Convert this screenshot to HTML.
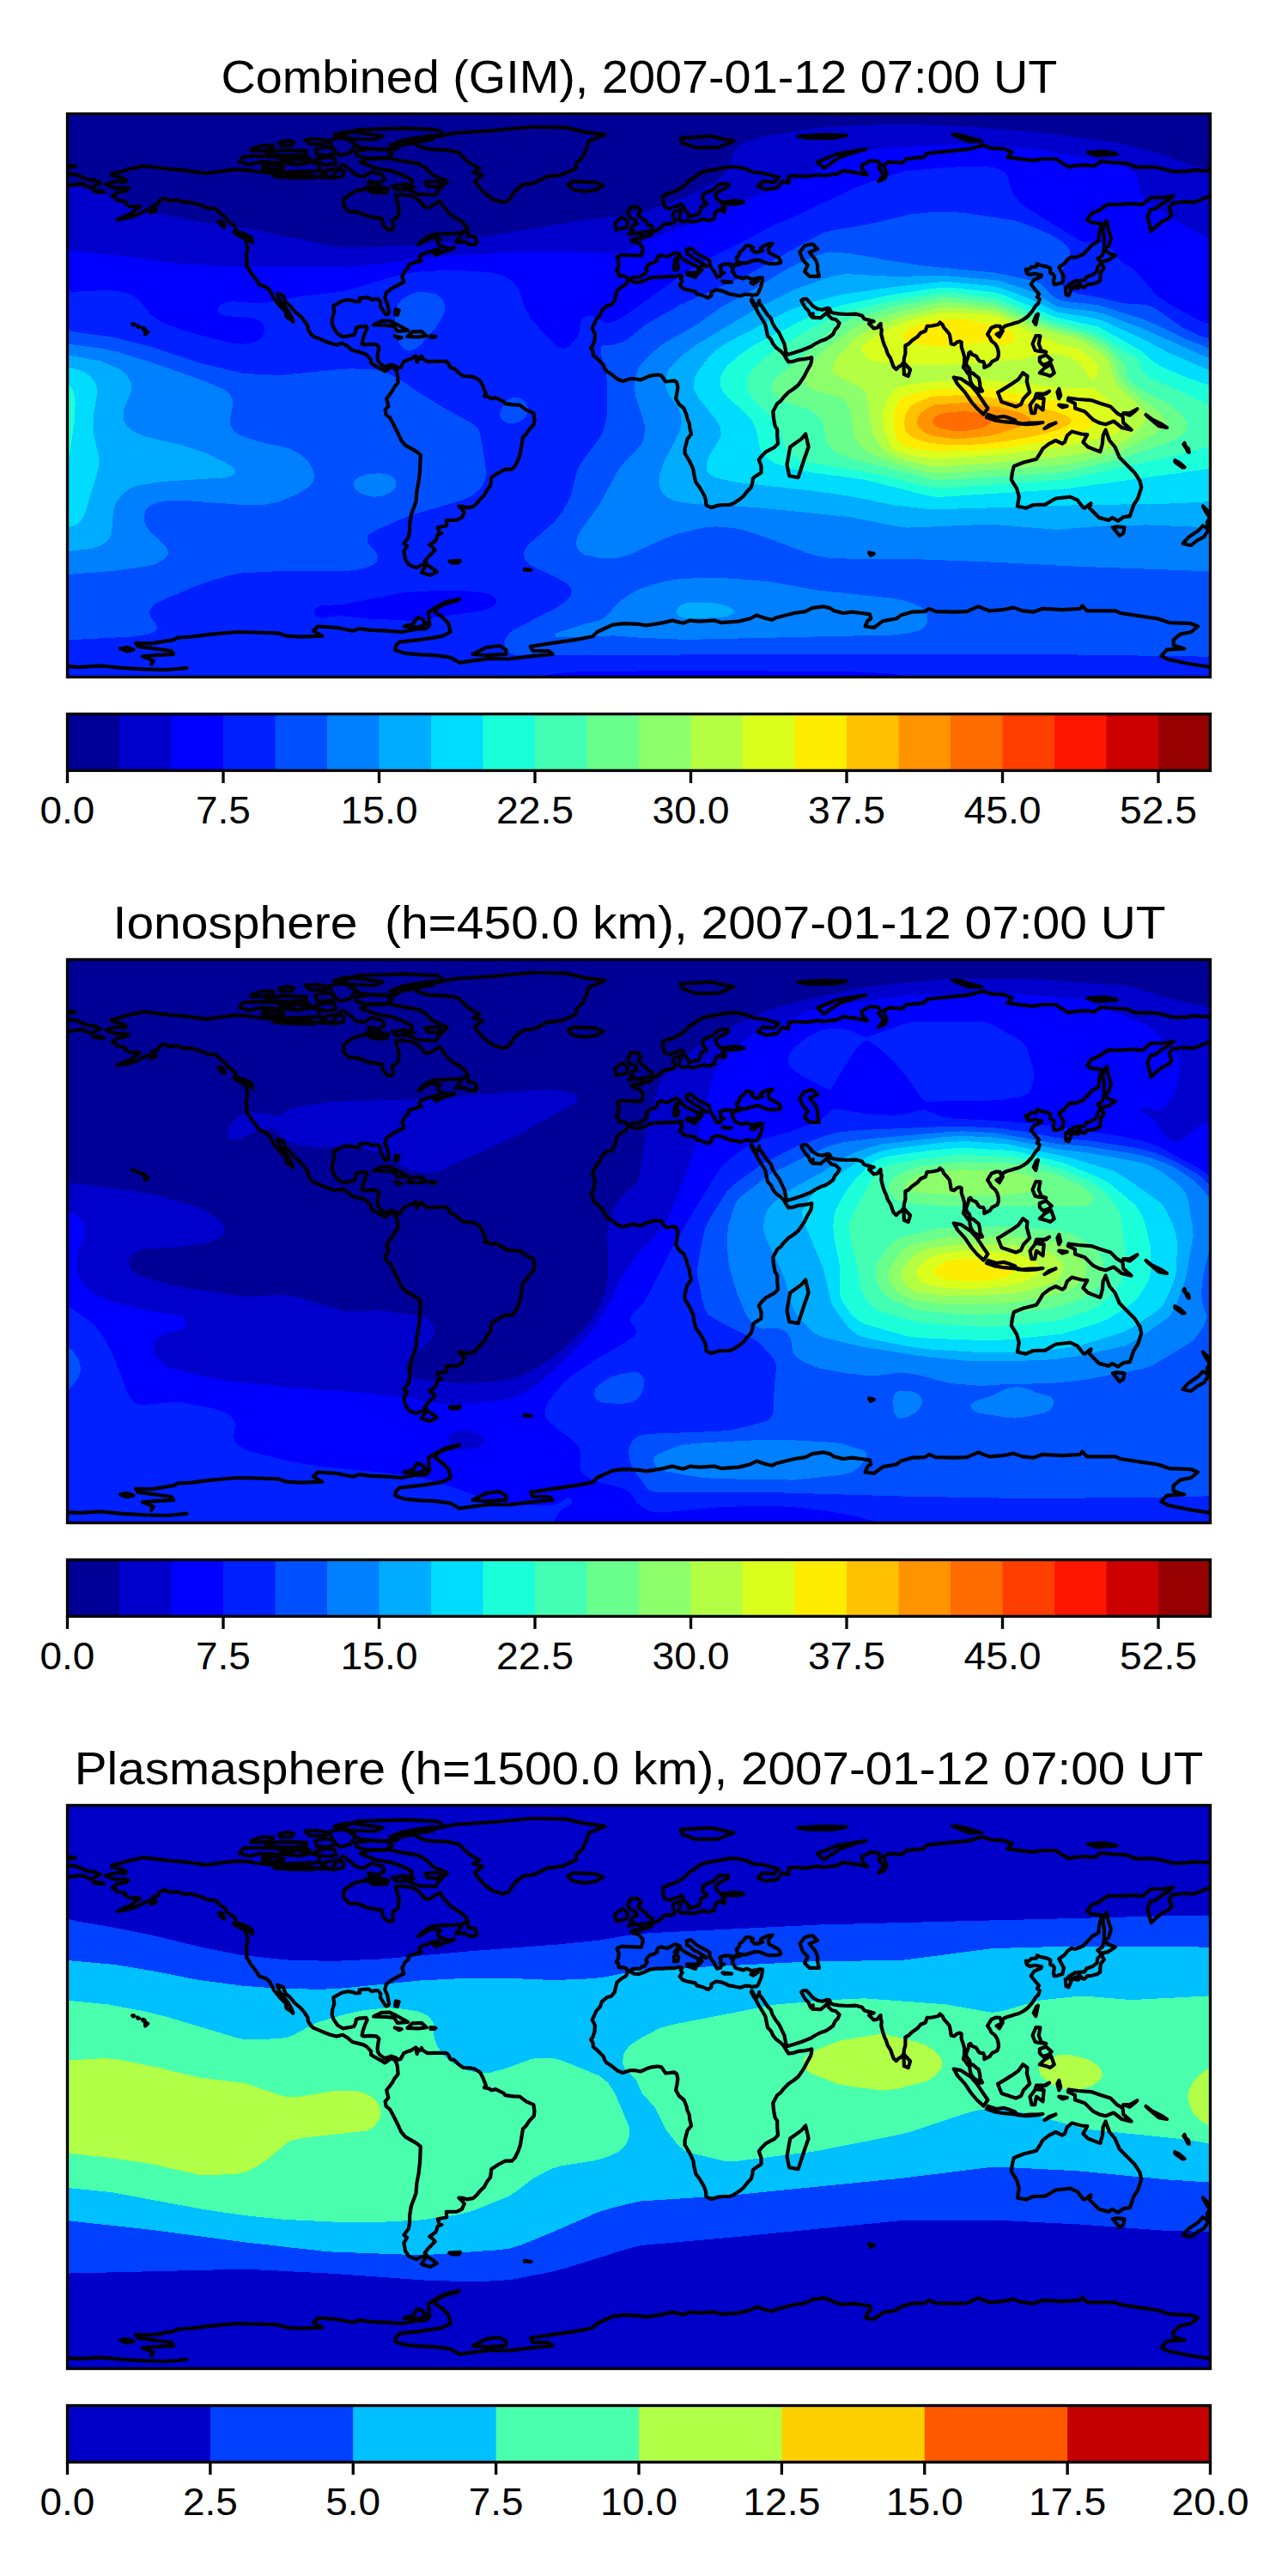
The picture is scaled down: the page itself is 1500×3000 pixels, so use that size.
<!DOCTYPE html>
<html><head><meta charset="utf-8"><style>html,body{margin:0;padding:0;background:#fff}svg{display:block}</style></head><body>
<svg width="1500" height="3000" viewBox="0 0 1500 3000">
<style>text{font-family:"Liberation Sans",sans-serif;fill:#000}.tl{font-size:44px}.tt{font-size:53px}</style>
<rect width="1500" height="3000" fill="#fff"/>
<text x="257.4" y="107.8" class="tt" textLength="974.0" lengthAdjust="spacingAndGlyphs">Combined (GIM), 2007-01-12 07:00 UT</text>
<text x="131.6" y="1092.6" class="tt" textLength="1226.0" lengthAdjust="spacingAndGlyphs">Ionosphere  (h=450.0 km), 2007-01-12 07:00 UT</text>
<text x="86.8" y="2077.6" class="tt" textLength="1314.6" lengthAdjust="spacingAndGlyphs">Plasmasphere (h=1500.0 km), 2007-01-12 07:00 UT</text>
<defs>
<clipPath id="clip0"><rect x="78.5" y="132.5" width="1331" height="656"/></clipPath>
<clipPath id="clip1"><rect x="78.5" y="1117.5" width="1331" height="656"/></clipPath>
<clipPath id="clip2"><rect x="78.5" y="2102.5" width="1331" height="656"/></clipPath>
</defs>
<g shape-rendering="crispEdges" clip-path="url(#clip0)">
<rect x="78.5" y="132.5" width="1331" height="656" fill="#000096"/>
<path fill="#0000cd" fill-rule="evenodd" d="M1036.6,144.5 1056.5,144.5 1137.5,148.2 1215.5,154.8 1293.5,164.9 1308.5,167.8 1347.5,177.8 1383.5,191 1409.5,197.6 1409.5,788.5 78.5,788.5 78.5,215.3 87.5,218.2 126.5,227.1 171.5,244.4 189.2,249.5 228.5,257.8 285.5,265.6 390.5,287 408.5,288.6 477.5,285.8 534.5,280.4 672.5,257.4 720.5,251.8 753.5,244.8 774.5,238.9 786.1,234.5 824.4,216.5 834.4,210.5 841.3,204.5 845.8,198.5 854.6,177.5 858.5,171.7 864.5,166.9 870.5,164.1 894.5,157.9 957.5,148.5 1036.6,144.5Z"/>
<path fill="#0000ff" fill-rule="evenodd" d="M1104.7,168.5 1134.5,168.1 1209.5,174.6 1290.5,188.7 1305,192.5 1317.5,198.2 1321.7,201.5 1325,207.5 1328.2,225.5 1332.3,231.5 1338.5,237 1371.4,258.5 1409.5,279.6 1409.5,788.5 78.5,788.5 78.5,290.6 99.5,293.9 153.5,299.5 204.5,307 252.5,309.7 306.5,311.3 402.5,310.9 447.5,306.9 504.5,299.2 597.5,293.3 651.5,292.4 705.5,295.1 717.5,294.9 729.5,291.5 760.4,276.5 798.5,262.9 837.5,247.5 897.5,221.1 930.5,207.7 942.9,201.5 963.5,185.9 975.5,179.7 990.5,176.6 1020.5,174.2 1044.5,171.2 1104.7,168.5Z"/>
<path fill="#0020ff" fill-rule="evenodd" d="M1096.5,195.5 1119.5,194.1 1149.5,194.2 1158.5,195.3 1166.5,198.5 1170.7,201.5 1173.5,204.9 1176.8,219.5 1179.7,225.5 1186.4,234.5 1192.9,240.5 1257.5,280.2 1263.5,282 1281.5,282.5 1290.5,286.2 1296.5,291.8 1305.5,304.9 1317.5,311.7 1322.1,315.5 1348.5,345.5 1362.5,354.5 1390.2,369.5 1401.5,375 1409.5,377.5 1409.5,788.5 1063.8,788.5 1035.5,784.3 996.5,782.3 804.5,780.8 672.5,782.3 648.5,784.2 623.1,788.5 78.5,788.5 78.5,339.3 87.5,339.7 126.5,337.8 147.5,340.7 157.4,345.5 162.5,350.3 175.9,366.5 183.9,372.5 192.5,377.2 212.9,384.5 233.2,390.5 269.1,399.5 282.5,400.9 294.5,399.2 300.5,396.6 304.5,393.5 308.1,387.5 308.5,384.5 306.8,378.5 303.5,374.4 300.6,372.5 294.5,370.4 264.5,368.1 258.3,366.5 254.5,363.5 253.4,360.5 255.5,356.2 261.5,352.3 270.5,351 294.5,353.2 309.5,352.9 351.5,345.1 396.5,339.7 408.5,337 465.5,320.1 480.5,317 525.5,314.5 570.5,317.1 587.1,321.5 597.5,327.7 604.2,336.5 610.9,357.5 618.9,372.5 645.5,400.6 651.5,405 657.5,406 663.5,402.9 671.8,393.5 674.4,387.5 676.2,375.5 678.5,371.3 681.5,368.8 684.5,367.6 690.5,367.6 705.5,375.7 711.5,375.8 717.5,373.8 726.5,368.5 789.5,323.2 804.5,313.3 825.5,301.3 870.5,278.9 900.5,262.6 930.5,249.7 993.5,219.9 1014.5,211.5 1053.5,199.5 1096.5,195.5ZM468.5,690.5 399.5,703.7 372.5,705.6 367.6,708.5 366,711.5 365.8,714.5 367.2,717.5 372.5,719.8 393.5,716.9 429.1,720.5 480.5,722.9 561.5,711.4 570.5,708.5 573.5,706.6 577.7,702.5 578.4,699.5 576.5,695.7 570.5,692.1 564.5,690.5 543.5,688.2 486.5,688.6 468.5,690.5Z"/>
<path fill="#0050ff" fill-rule="evenodd" d="M1060.8,249.5 1089.5,246.7 1110.5,247 1125.5,248.4 1179.5,256.5 1191.5,260.1 1210.2,267.5 1223.8,273.5 1234,279.5 1241.7,285.5 1246.2,291.5 1246.3,297.5 1238.3,312.5 1235.3,321.5 1236.1,330.5 1239.5,335.7 1242.5,337.9 1254.5,342 1281.5,346.7 1305.5,352.7 1317.5,354.2 1332.5,354.6 1338.5,356 1347.5,360.5 1377.5,381.7 1396.3,390.5 1409.5,394.8 1409.5,764.7 1254.5,762.5 1044.5,761.5 645.5,763.1 621.5,761.2 603.5,763.4 597.5,762.3 591.5,759 587.7,753.5 587.4,747.5 589.8,741.5 594.5,736.4 603.5,730.7 646.8,708.5 659.8,699.5 664.9,693.5 665.6,687.5 663.5,683.1 660.5,679.9 651.5,674.3 616.4,657.5 611.3,651.5 609.8,645.5 611.6,639.5 616.2,633.5 645.5,607.8 654.5,596.6 664,579.5 670.9,552.5 674.2,543.5 679.9,534.5 698.2,510.5 702.9,501.5 705.5,491.5 707,480.5 707.1,447.5 705.5,432.5 699.6,411.5 699.5,404.6 702.5,402.3 714.5,401.7 726.5,397.6 732.5,393.9 753.5,376.9 792.5,354.9 873.5,318.5 957.5,271.6 969.5,268.2 1010.2,261.5 1060.8,249.5ZM478.6,342.5 486.5,340.1 492.5,339.7 507.1,342.5 512.2,345.5 515.1,348.5 517,351.5 518.3,357.5 517.4,363.5 515,369.5 507.5,381.6 489.5,402 483.5,406.5 477.5,408.7 471.5,407.3 468.5,404.8 464.7,399.5 460.5,387.5 459.7,375.5 460.7,363.5 463.4,354.5 468.1,348.5 478.6,342.5ZM78.5,387.5 78.5,384.6 90.5,387.1 132.5,392.7 177.5,404.2 234.5,423.3 282.5,434.6 309.5,436.4 330.5,436.7 393.5,430.2 408.5,429.4 435.5,430.1 447.5,433.1 462.5,439.9 491.4,459.5 522.5,478.2 548.9,492.5 555.5,497.5 558,501.5 559.7,507.5 565.5,543.5 566.1,552.5 564.5,560 561.5,566.1 558,570.5 550.3,576.5 543.5,580.3 531.5,584.8 477.5,600.1 435.7,618.5 431,621.5 428.5,624.5 427.6,627.5 427.9,630.5 429.5,633.8 437.5,642.5 440.2,648.5 438.5,654.6 435.2,657.5 428.5,660.5 416.6,663.5 399.5,665.5 324.5,665.2 282.5,667.3 267.5,670 237.5,678.9 194.3,696.5 181.8,702.5 177.8,705.5 174,711.5 174.7,717.5 181.5,726.5 182.7,729.5 182.5,732.5 180.5,735.4 177.5,737 171.5,738.9 153.5,741.5 78.5,745.4 78.5,387.5ZM598.3,462.5 603.5,462.7 608.9,465.5 612,468.5 614.8,474.5 614.7,480.5 612.5,485.4 606.5,490.4 600.5,492.7 591.5,492.5 585.5,489.9 582.9,486.5 582.3,483.5 583,477.5 588.1,468.5 591.5,465.4 598.3,462.5Z"/>
<path fill="#0080ff" fill-rule="evenodd" d="M961,294.5 972.5,293.9 990.5,295 1035.8,303.5 1074.3,309.5 1158.5,317.5 1203.5,327 1212.5,330.7 1227.3,345.5 1233.5,349.1 1242.5,351.1 1278.5,355.2 1326.5,370 1344.5,377.2 1380.5,394.5 1409.5,406.3 1409.5,665.3 1251.5,659.6 1149.5,654.3 1050.5,650.6 996.5,650.9 963.5,649.7 951.5,647.4 939.5,643.9 896.6,627.5 867.5,617.8 855.5,615.1 834.5,613.3 819.5,614.5 786.5,622.4 773.5,627.5 735.5,644.9 720.5,649.8 708.5,650.5 696.5,649.5 681.5,646.1 675.5,642.7 672.5,639 670.9,633.5 671.7,627.5 675.6,618.5 697.6,588.5 720.7,546.5 725.4,540.5 743.1,522.5 747.2,516.5 749.7,510.5 751.3,501.5 751,495.5 740.7,462.5 738.4,450.5 740.9,435.5 744.5,427 747.5,422.6 758.6,411.5 771.5,400.7 810.5,378.7 840.3,357.5 876.5,337.6 921.5,310.4 951.1,297.5 961,294.5ZM78.5,402.5 78.5,400.5 120.5,406.1 135.5,409.4 171.8,420.5 206.7,432.5 239.6,444.5 260.7,453.5 268,459.5 270.6,465.5 270.9,471.5 267.8,489.5 268.6,495.5 272,501.5 276.5,505.2 285.5,509.4 303.5,514.7 336.5,522.2 349.2,528.5 359,537.5 364.2,546.5 366.2,555.5 364.3,561.5 359,567.5 344.4,576.5 324.5,584.4 309.5,587.7 300.5,588.5 285.5,588.2 216.5,583 192.5,583.5 180.5,586.1 174.5,589 169.5,594.5 167.6,600.5 168,606.5 170.1,612.5 174.5,618.9 190.4,633.5 195.3,639.5 195.7,645.5 191.3,651.5 180.5,657.1 164.5,660.5 132.5,664.8 87.5,668.3 78.5,669.8 78.5,402.5ZM427.5,552.5 441.5,551.2 453.5,552.9 457.7,555.5 460.2,558.5 461.3,561.5 460.4,567.5 455.1,573.5 444.5,577.8 435.5,578.8 423.5,576 418.2,573.5 414.3,570.5 412.2,567.5 411.4,564.5 411.8,561.5 413.9,558.5 418.3,555.5 427.5,552.5ZM781.6,675.5 795.5,673.9 831.5,672.5 861.5,674.3 897.5,677.6 951.5,687.4 1041.5,696.9 1059.5,701.1 1071.5,706.3 1077.2,711.5 1079.2,714.5 1080.5,718.1 1080.3,723.5 1077.2,729.5 1074,732.5 1068.5,735 1050.5,738.5 1038.5,739.5 798.5,744.9 747.5,742.9 714.5,740.3 678.5,742.1 647.4,741.5 646.1,738.5 653.3,735.5 681.5,726.5 696.5,723 701.9,720.5 705.5,717.8 723.5,699.1 732.5,692.8 744.5,686.1 762.5,680.1 781.6,675.5Z"/>
<path fill="#00acff" fill-rule="evenodd" d="M969.9,321.5 984.5,319.1 1041.5,322 1098.5,320.7 1161.5,326.5 1200.5,338.9 1230.5,356.5 1239.5,358.5 1275.5,362.8 1288.4,366.5 1327.8,381.5 1409.5,417.8 1409.5,614.4 1335.5,611.4 1281.5,612.7 1230.5,616.9 1155.5,610.6 1056.5,614.6 1044.5,613.1 990.5,602.2 891.5,592.1 849.5,588.9 807.5,587 786.5,583.5 777.2,579.5 771.2,573.5 768.2,567.5 767.4,561.5 768.3,552.5 773.4,537.5 792,501.5 793.8,492.5 792.9,483.5 791,477.5 787.7,471.5 778.7,459.5 775.2,450.5 775.7,438.5 777.5,432.5 780.5,427.7 793.9,414.5 809.3,402.5 879.5,360.4 927.5,336.1 969.9,321.5ZM78.5,414.5 78.5,413.4 116.7,420.5 138.5,429.5 146.7,435.5 152.3,444.5 153.4,450.5 152.5,456.5 144.5,476.2 143.7,486.5 144.5,490 147.4,495.5 153.5,501.2 159.5,504.5 171.5,509 213.5,518.9 240.5,527.9 260.4,537.5 270.3,543.5 272.8,546.5 273.5,549.5 272.1,552.5 267.5,555 258.5,556.5 186.5,561.1 162.5,565.1 153.5,568 147.5,571.6 141.8,576.5 135.1,585.5 132.1,594.5 129.9,621.5 127,627.5 124.3,630.5 117.5,635.3 108.5,638.5 78.5,642.3 78.5,414.5ZM797.7,702.5 804.5,701.5 834.5,702.6 845.7,705.5 852.2,708.5 855,711.5 853.9,714.5 852.5,715.3 847.9,717.5 840.5,719 798.5,720.4 790.6,717.5 787.8,714.5 787.4,711.5 792,705.5 797.7,702.5Z"/>
<path fill="#00dcfe" fill-rule="evenodd" d="M1073.5,330.5 1095.5,328.2 1104.5,328.2 1152.5,332.7 1164.5,335.1 1197.5,347.2 1230.5,363.3 1272.5,370.3 1284.5,373.7 1328.5,393.5 1359.5,410.1 1409.5,431.5 1409.5,584.2 1362.5,586.5 1248.5,588.5 1086.5,593.4 1042,588.5 987.5,577.4 942.5,571.2 858.5,561.9 834.5,556.5 828.5,553.9 825.5,551.4 822.5,545.7 823.2,537.5 827.2,528.5 838.3,510.5 839.7,504.5 839.1,498.5 834.4,489.5 812.7,462.5 808.4,453.5 807.9,447.5 809.7,438.5 812.9,432.5 824.2,417.5 832.5,408.5 846,399.5 915.5,363.1 927.5,358 951.5,350 978.5,343.4 1038.5,334.4 1073.5,330.5ZM78.5,429.5 78.5,427.2 96.8,432.5 105.6,438.5 112,447.5 113.5,456.5 109.4,480.5 108.4,498.5 109.5,507.5 115.6,534.5 114.8,543.5 112.6,552.5 98,600.5 94,606.5 90.5,609.6 85.4,612.5 78.5,614.7 78.5,429.5Z"/>
<path fill="#1cffdb" fill-rule="evenodd" d="M1082.5,336.5 1095.5,334.7 1104.5,334.6 1158.5,340.5 1170.5,344.5 1229.9,369.5 1278.5,380.4 1326.5,406.8 1344.5,421.9 1353.5,427.6 1377.5,437.7 1409.5,449.3 1409.5,545.8 1239.5,569.5 1092.5,579 1080.5,577.2 1006.2,558.5 945.5,550.3 921.5,545.8 900.5,538.6 890.5,531.5 884.9,522.5 881.1,501.5 875.6,489.5 867.6,480.5 847.3,462.5 842.4,456.5 839.1,450.5 838.4,444.5 839.5,438.5 842,432.5 846.5,426.3 863.8,411.5 877.3,402.5 939.5,370.2 957.5,361.9 981.5,355.2 1035.5,343.7 1082.5,336.5ZM78.5,447.5 82.6,450.5 86,456.5 87.6,468.5 86.5,492.5 81.5,526.4 78.5,538.9 78.5,447.5Z"/>
<path fill="#43ffb4" fill-rule="evenodd" d="M1084.5,342.5 1095.5,340.8 1104.5,340.5 1158.5,347 1224.5,373.3 1263.5,383.5 1281.5,390.3 1293.5,397.8 1308.5,409.3 1323.5,416 1326.9,420.5 1331.2,432.5 1336.8,438.5 1396.1,465.5 1404.5,470.1 1409.5,474.2 1409.5,518.6 1400.3,522.5 1362.5,532.1 1242.5,558.3 1095.5,568.7 1080.5,566.9 1011.5,550.2 939.5,537.9 929.4,534.5 919.2,528.5 915,522.5 908.5,501.5 904.2,492.5 899.3,486.5 882.5,471.4 875.2,462.5 871.6,456.5 869.9,450.5 870.5,441.5 872.8,435.5 877.1,429.5 889.3,417.5 901,408.5 946,381.5 969.5,370 993.5,361.4 1035.5,351.1 1084.5,342.5Z"/>
<path fill="#6aff8d" fill-rule="evenodd" d="M1084.7,348.5 1095.5,346.5 1104.5,346.2 1158.5,352.6 1208.4,372.5 1230.5,379.9 1260.5,387.6 1274.9,393.5 1290.5,402.9 1307.1,420.5 1310.8,426.5 1313.1,438.5 1314.7,441.5 1320.3,447.5 1332.5,455.7 1359.5,469.5 1373.7,480.5 1379,486.5 1382.1,492.5 1382.6,498.5 1381.3,501.5 1378.8,504.5 1370.7,510.5 1357.9,516.5 1299.5,536.3 1245.5,548.5 1227.5,550.8 1098.5,559.4 1089.5,559.3 992,534.5 977,528.5 967.6,522.5 962.6,516.5 958.4,492.5 952.1,483.5 942.9,477.5 912.5,466.8 905.9,462.5 900.4,456.5 899.2,453.5 899.4,447.5 902.3,441.5 905,438.5 927.5,421.3 960.5,390.5 972.5,380.8 990.5,372.1 1006.7,366.5 1044.5,356.1 1084.7,348.5Z"/>
<path fill="#8dff6a" fill-rule="evenodd" d="M1084.4,354.5 1095.5,352.2 1104.5,351.7 1158.5,357.6 1200.5,374.4 1230.5,384 1256.5,390.5 1269.8,396.5 1284.5,405.2 1292.1,411.5 1298.3,420.5 1304.1,438.5 1308.5,445.7 1316.3,453.5 1350.3,480.5 1357.2,489.5 1358.1,492.5 1357.6,495.5 1355.5,498.5 1346.3,504.5 1312.5,522.5 1299.5,528.3 1248.5,539.6 1233.5,541.9 1092.5,551.6 1083.5,550.3 1044.5,540.4 1014.4,528.5 1009.2,525.5 1002.2,519.5 995.9,510.5 994,504.5 990.7,480.5 987.6,471.5 984.5,466.7 978.5,462.4 951.5,455.5 940.5,450.5 934.6,444.5 933.6,441.5 934.9,435.5 940.8,426.5 960.5,407.3 981.5,390.5 996.5,380.7 1011.5,374.4 1041.5,364.1 1084.4,354.5Z"/>
<path fill="#b4ff43" fill-rule="evenodd" d="M1100.8,357.5 1158.5,362.2 1203.5,380.5 1230.5,388.7 1251.7,393.5 1260.5,397.3 1283.1,411.5 1289.2,417.5 1292.4,423.5 1296.3,438.5 1301,447.5 1308.5,456 1326.7,471.5 1333.4,480.5 1334.9,486.5 1332.5,492.5 1318.1,507.5 1309.6,513.5 1299.5,518.6 1286.4,522.5 1236.5,531.9 1161.5,538.9 1092.5,543.6 1083.5,542.5 1053.5,535.8 1044.5,533 1035.5,528.5 1025.2,519.5 1016.7,504.5 1013.5,492.5 1010.8,465.5 1007.9,456.5 1001.7,450.5 981.8,441.5 972.2,435.5 970.1,432.5 969.5,429.5 970.7,423.5 976.8,414.5 993,396.5 1001,390.5 1014.5,382.9 1047.5,369.7 1089.5,359.4 1100.8,357.5Z"/>
<path fill="#dbff1c" fill-rule="evenodd" d="M1086.1,366.5 1098.5,364 1107.5,363.8 1152.5,366.7 1164.5,369.3 1178.7,375.5 1203.5,388.8 1218.5,394.9 1236.5,401.6 1254.5,405.1 1257.5,406.4 1275.5,420.8 1278.7,426.5 1278.2,435.5 1275.5,440.8 1272.5,441.9 1269.5,440.4 1259.8,426.5 1254.5,421.1 1242.5,414.1 1233.5,411.8 1221.5,412.5 1185.5,418.8 1137.5,422.9 1113.5,424.4 1071.5,425.1 1044.5,424.2 1020.5,421.1 1011,417.5 1004.8,411.5 1003.7,405.5 1004.9,402.5 1012,396.5 1026.3,387.5 1037.8,381.5 1052.6,375.5 1065.5,371.2 1086.1,366.5ZM1084.7,444.5 1146.5,442.3 1242.5,452 1272.5,452.4 1278.5,455.7 1287.5,462.7 1294,468.5 1299,474.5 1305.7,486.5 1306.4,492.5 1305.6,498.5 1302.5,503.2 1299.5,505.5 1257.5,516.2 1236.5,520.3 1170.5,529 1089.5,534.7 1062.5,531 1047.5,526.6 1040.8,522.5 1036,516.5 1032.2,507.5 1028.9,495.5 1027.8,486.5 1028.3,480.5 1033.2,465.5 1039.2,456.5 1044.5,452 1047.5,450.7 1056.5,448.5 1084.7,444.5Z"/>
<path fill="#feed00" fill-rule="evenodd" d="M1093.1,372.5 1104.5,371.4 1125.5,372.4 1146.5,377.1 1158.5,377.2 1164.5,378.5 1171.2,381.5 1179.1,387.5 1182.5,393.5 1182,396.5 1178.9,399.5 1170.5,401.7 1161.5,401.4 1143.5,398 1122.5,401.9 1098.5,403.7 1065.5,400.7 1053.5,397.4 1050.5,394.6 1050.6,390.5 1053,387.5 1061.2,381.5 1071.5,377.4 1093.1,372.5ZM1086.7,453.5 1125.5,452 1143.5,452.3 1173.5,456.3 1221.5,464.6 1245.5,469.8 1263.5,476.7 1269.5,480.5 1272.2,483.5 1274,489.5 1272.5,493.7 1267.9,498.5 1254.5,505.1 1220.4,513.5 1173.5,521.4 1134.5,524.8 1092.5,525.8 1065.5,522.7 1053.5,519.4 1048.7,516.5 1045.8,513.5 1043,507.5 1041.5,501.5 1040.4,486.5 1041.9,477.5 1044.5,470.1 1047.9,465.5 1056.5,460.5 1086.7,453.5Z"/>
<path fill="#ffc100" fill-rule="evenodd" d="M1083.9,462.5 1095.5,460.9 1128.5,460 1167.5,465.1 1200.5,471.5 1222.8,477.5 1240.5,483.5 1245.5,486.5 1247.6,489.5 1246.9,492.5 1243.2,495.5 1229.2,501.5 1206.1,507.5 1173.5,513.4 1146.5,516.9 1122.5,518.1 1101.5,517.8 1083.5,515.8 1068.5,512.3 1059.5,507.6 1054.5,501.5 1052.7,492.5 1054.3,483.5 1059.5,474.3 1067.9,468.5 1083.9,462.5Z"/>
<path fill="#ff9400" fill-rule="evenodd" d="M1089.5,471.5 1125.5,468.9 1149.5,471.7 1167.5,475 1187.2,480.5 1195,483.5 1199.2,486.5 1200.3,489.5 1198.2,492.5 1192.4,495.5 1164.6,504.5 1152.3,507.5 1119.5,511.1 1110.5,510.9 1095.5,509 1086.5,507.4 1077.5,504.3 1070.6,498.5 1068,492.5 1068.7,486.5 1072.8,480.5 1081.6,474.5 1089.5,471.5Z"/>
<path fill="#ff6c00" fill-rule="evenodd" d="M1103,480.5 1122.5,478.9 1134.5,480.2 1147.8,483.5 1153.2,486.5 1154.9,489.5 1153.8,492.5 1150.2,495.5 1143.5,498.5 1122.5,502.1 1107.5,501.4 1095.3,498.5 1089,495.5 1086.5,492.5 1086.1,489.5 1087.9,486.5 1092.5,483.3 1103,480.5Z"/>
</g>
<g shape-rendering="crispEdges" clip-path="url(#clip1)">
<rect x="78.5" y="1117.5" width="1331" height="656" fill="#000096"/>
<path fill="#0000cd" fill-rule="evenodd" d="M1090.8,1141.5 1113.5,1140.1 1206.5,1140.3 1305.5,1147.5 1320.5,1150.3 1365.5,1163.5 1409.5,1173.8 1409.5,1773.5 78.5,1773.5 78.5,1377.1 137.6,1384.5 174.5,1390.3 188.4,1393.5 225.5,1404.5 235.6,1408.5 251,1417.5 255.5,1421.1 259.8,1426.5 261.5,1432.5 261,1435.5 259.2,1438.5 252.5,1443.4 243.5,1447.2 207.5,1452.5 168.5,1454.6 159.5,1457.3 153.3,1462.5 150.5,1467.5 150,1471.5 152.1,1477.5 154.4,1480.5 162.5,1485.5 207.5,1498.6 273.5,1508.4 288.5,1509.7 327.5,1507.9 339.5,1508.8 399.5,1527 408.5,1527.4 441.5,1526.1 492.5,1533.1 498.5,1535.7 503.2,1540.5 505.8,1546.5 505.9,1552.5 503.1,1558.5 498.5,1564.3 474.5,1585.5 472.3,1591.5 472.6,1594.5 473.7,1597.5 477.5,1602 483.5,1604.9 491.4,1606.5 540.5,1611.4 576.5,1609 594.5,1606.5 609.5,1601.1 624.5,1594.1 654.5,1572.6 666.5,1561.4 684.5,1542.2 690.5,1534.2 698.9,1519.5 705.1,1504.5 707.7,1489.5 708.6,1474.5 707.1,1438.5 708.5,1428.2 711.5,1416.3 714.5,1407.7 720.5,1397.7 726.8,1390.5 740.7,1378.5 744,1372.5 754.5,1309.5 760.4,1285.5 768.4,1261.5 772.1,1255.5 780.9,1246.5 810.7,1219.5 822.5,1210.3 867.5,1188.3 898.8,1174.5 945.5,1163 1002.5,1150.7 1056.5,1144.2 1090.8,1141.5ZM615.7,1270.5 642.5,1268.9 654.5,1270 667.5,1273.5 671.8,1276.5 672.8,1279.5 671.7,1282.5 668.5,1285.5 598.3,1324.5 518.9,1360.5 507.5,1365 501.5,1366.4 492.5,1365.9 477.5,1362 468.5,1357.9 447.5,1344.5 423.5,1337.6 408.5,1335.7 369.5,1336.6 345.5,1332.7 339.1,1330.5 334,1327.5 321.5,1316.9 315.5,1314.2 309.5,1314.2 300.5,1316.6 282.5,1324.7 273.5,1327.6 267.5,1326.2 265.5,1324.5 264.3,1321.5 264.5,1317.9 266.6,1312.5 273.5,1304 282.5,1298.4 291.5,1295.8 303.5,1295.6 321.5,1299.4 327.5,1297.7 337.8,1291.5 345.5,1289.1 387.5,1283 492.5,1279.7 615.7,1270.5Z"/>
<path fill="#0000ff" fill-rule="evenodd" d="M1138.7,1156.5 1167.5,1156.8 1245,1162.5 1260.5,1164.5 1281.1,1171.5 1335.5,1194.1 1345.5,1201.5 1369.1,1225.5 1373.6,1234.5 1374,1243.5 1369.3,1270.5 1365.5,1278.5 1360.2,1285.5 1356.5,1289.1 1350.5,1292.4 1344.5,1292.3 1338.5,1290.3 1332.5,1289.6 1328.5,1291.5 1329.4,1294.5 1341.5,1301.5 1358.2,1324.5 1362.5,1328.1 1368.5,1330.2 1371.5,1330 1377.5,1327.5 1392.5,1314.2 1398.5,1310.3 1404.5,1308.5 1409.5,1308.4 1409.5,1773.5 78.5,1773.5 78.5,1411 87.1,1414.5 91.6,1417.5 94.5,1420.5 97.3,1426.5 98.1,1432.5 97.6,1438.5 90.9,1459.5 89,1474.5 89.8,1480.5 91.9,1486.5 99.5,1498.5 111.6,1507.5 129.5,1516.1 171.5,1526.1 206,1531.5 213,1534.5 216.2,1537.5 217.5,1540.5 217.2,1543.5 214.5,1546.5 210.5,1548.3 189.5,1553.6 183.5,1557.3 180.4,1561.5 178.6,1570.5 180.1,1576.5 186.5,1586 195.5,1592.6 239.7,1603.5 264.5,1608.4 336.5,1616.1 408.5,1620.8 441.5,1623.9 465.5,1626.9 510.5,1634.5 546.5,1634.6 591.5,1629.3 600.5,1626.4 609.5,1622.2 627.5,1611.4 663.5,1578 676.6,1564.5 692.4,1546.5 698.9,1537.5 710.6,1516.5 723.5,1488.5 738.5,1465.9 745.9,1456.5 765.5,1436.5 773.9,1426.5 780,1414.5 789.8,1390.5 810.1,1336.5 827.9,1261.5 831.8,1249.5 835.4,1243.5 840.6,1237.5 868.1,1210.5 876.5,1204.5 889.6,1198.5 942.9,1177.5 957.5,1173.5 1053.5,1159.3 1138.7,1156.5ZM534.5,1665.8 526,1669.5 522.8,1672.5 521.5,1675.5 522,1678.5 524,1681.5 527.8,1684.5 537.5,1687.7 546.5,1688.4 555.5,1686.7 560.2,1684.5 563,1681.5 564,1678.5 563.5,1675.5 558.1,1669.5 546.5,1665.1 540.5,1664.8 534.5,1665.8Z"/>
<path fill="#0020ff" fill-rule="evenodd" d="M1066.3,1189.5 1143.5,1189.6 1155.5,1193.3 1185.5,1209.8 1191.5,1214.3 1195.4,1219.5 1202,1240.5 1203.6,1249.5 1203.7,1255.5 1202.1,1264.5 1199.5,1270.5 1197.1,1273.5 1191.5,1276.6 1164.5,1280.9 1149.5,1281.8 1104.5,1281.6 1083.5,1283.3 1077.5,1282.7 1074.5,1280.9 1057.4,1255.5 1038.5,1233.5 1020.5,1217.8 1011.5,1212.2 1008.5,1211.7 1002.5,1215.6 996.5,1222.5 984.5,1240.3 969.5,1265.5 966.5,1268.5 963.5,1268.4 960.5,1267 928.8,1249.5 921.5,1243.5 918.1,1237.5 917.7,1234.5 919,1228.5 925.6,1219.5 940.7,1207.5 954.5,1200.6 966.5,1197.9 981.5,1198.3 994.1,1201.5 1008.5,1208.4 1052.9,1192.5 1066.3,1189.5ZM967,1294.5 969.5,1292.5 975.5,1291.9 1012.8,1297.5 1038.5,1298.8 1053.7,1297.5 1074.5,1292.1 1077.5,1292.6 1097.9,1300.5 1107.5,1302.4 1158.5,1305 1200.5,1308.3 1305.5,1323 1332.5,1329.4 1350.5,1335.5 1378.5,1351.5 1395.5,1359.6 1409.5,1369.9 1409.5,1773.5 1027.7,1773.5 993.5,1765.2 962,1759.5 927.5,1755.4 897.5,1753.6 837.5,1755 777.5,1761.1 765.5,1761.3 756.5,1759.6 747.5,1755.2 742.4,1750.5 734.1,1738.5 729.5,1735 720.5,1731.7 696.5,1725.9 687.5,1722.2 680,1717.5 676.3,1711.5 676.3,1693.5 675.2,1687.5 673.6,1684.5 664.5,1675.5 641.1,1657.5 636.2,1651.5 635.1,1648.5 635,1642.5 636.7,1636.5 640,1630.5 653.9,1612.5 663.5,1603.8 696.5,1581.8 731.4,1561.5 739.1,1555.5 740.9,1549.5 738.5,1543.9 735.2,1540.5 733.9,1537.5 734.4,1534.5 736.1,1531.5 744.5,1523.4 750.5,1515.2 759.5,1499.3 782.9,1453.5 803.6,1417.5 831.5,1371.8 843.5,1355.2 858.5,1343.1 877.6,1330.5 888.5,1326.5 918.7,1318.5 943.5,1309.5 956.6,1303.5 967,1294.5ZM78.5,1522.5 78.5,1520.8 103.3,1537.5 110.1,1543.5 117.1,1552.5 129.9,1573.5 147.5,1619.4 151.4,1627.5 156.5,1633.7 159.5,1635.1 165.5,1636 198.5,1633.2 210.5,1633.1 245.1,1639.5 258.5,1643.2 268.1,1648.5 273.1,1654.5 274,1660.5 271.9,1672.5 273.5,1679.4 278.8,1684.5 288.5,1689.4 333.5,1701.1 372.5,1707.8 444.5,1714.8 495.5,1721.8 529.5,1732.5 567.5,1746.8 594.5,1752.3 609.5,1753.4 642.5,1753.1 648.5,1752 660.1,1744.5 663.5,1744 666.3,1747.5 665.5,1750.5 662.6,1753.5 654.5,1757.8 651.5,1760.8 643.8,1773.5 78.5,1773.5 78.5,1522.5Z"/>
<path fill="#0050ff" fill-rule="evenodd" d="M1088.5,1312.5 1119.5,1311.7 1161.5,1313.6 1200.5,1319.2 1230.5,1325 1269.5,1328.7 1308.5,1334.4 1329.5,1338.4 1347.5,1343.2 1368.5,1352.7 1395.5,1367.6 1409.5,1380.3 1409.5,1741.8 1395.5,1743 1203.5,1745.2 1056.5,1742.7 897.5,1738 768.5,1738.1 762.5,1737.6 756.3,1735.5 753.1,1732.5 740,1714.5 734.9,1705.5 732.9,1699.5 732.1,1690.5 733.2,1684.5 736.1,1678.5 741.5,1673.6 747.5,1671.2 756.5,1669.8 834.5,1667 849.5,1665.7 873.5,1660.5 891.5,1655.3 897.4,1651.5 900.5,1645.5 901.8,1615.5 903.9,1594.5 903.5,1588.5 901.1,1582.5 885.5,1564.9 881.2,1561.5 834.9,1537.5 825.5,1531.6 821.1,1525.5 817.7,1513.5 812.5,1486.5 811.9,1477.5 819.1,1438.5 821.7,1429.5 825.9,1420.5 846.4,1387.5 858.5,1376.6 891.5,1353 930.5,1334 963.5,1321.8 975.5,1318.9 999.5,1316.2 1088.5,1312.5ZM78.5,1567.5 84.6,1573.5 90.5,1581.3 93.3,1588.5 93.9,1594.5 92.9,1600.5 90.2,1606.5 78.5,1620 78.5,1567.5ZM722.1,1600.5 738.5,1597.7 744.5,1599.2 747.5,1601.7 750.1,1606.5 750.5,1612.5 747.9,1621.5 744.2,1627.5 741,1630.5 735.5,1633.1 723.5,1634.8 705.5,1634.1 699.5,1632.8 695.3,1630.5 692.9,1627.5 692,1624.5 692.9,1618.5 694.7,1615.5 706,1606.5 712.2,1603.5 722.1,1600.5Z"/>
<path fill="#0080ff" fill-rule="evenodd" d="M1098.8,1318.5 1119.5,1317.3 1158.5,1319.1 1230.5,1332 1263.5,1334.9 1314.5,1342.6 1338.5,1347.9 1356.8,1354.5 1369.2,1360.5 1391.5,1375.5 1403,1387.5 1407.2,1393.5 1409.5,1398.9 1409.5,1451.4 1401.7,1483.5 1398.9,1504.5 1400,1516.5 1405.1,1531.5 1405.3,1534.5 1402.3,1543.5 1394.3,1555.5 1389.5,1560.8 1383.5,1565.5 1347.5,1587.1 1338.5,1591.6 1326.5,1595.1 1269.5,1605.8 1251.5,1608.4 1224.5,1610.9 1165.4,1612.5 1143.5,1614 1107.5,1611.1 1066,1600.5 1059.5,1599.6 1044.5,1599.1 1020.5,1602.1 1011.5,1602.2 984.5,1599.1 954.5,1593.6 936.5,1586.4 926.3,1579.5 922.8,1573.5 922.2,1564.5 920.8,1558.5 916.8,1552.5 913,1549.5 909.5,1547.8 903.5,1546.8 888.5,1547.6 882.5,1545.5 875.4,1540.5 869.1,1531.5 858.9,1507.5 849.8,1477.5 847.6,1465.5 847.2,1438.5 848.3,1426.5 855.5,1404.1 858.5,1398.5 862.8,1393.5 890.2,1372.5 903.5,1363.9 947.2,1342.5 969.5,1333.4 981.5,1330.3 1020.5,1325.5 1098.8,1318.5ZM1181.3,1615.5 1185.5,1614.8 1194.5,1616.8 1206.5,1621.6 1221.5,1625.9 1224.7,1627.5 1227,1630.5 1226.9,1636.5 1222.5,1642.5 1215.6,1645.5 1194.5,1650.2 1182.5,1651.6 1173.5,1651 1139.3,1645.5 1133.4,1642.5 1131,1639.5 1130.7,1636.5 1131.5,1635.3 1133,1633.5 1137.5,1631.1 1152.5,1626.4 1173.5,1616.6 1181.3,1615.5ZM1043.5,1621.5 1047.5,1619.9 1053.5,1619.5 1062.5,1620.7 1068.5,1623.1 1071.5,1625.8 1073.5,1630.5 1073.6,1633.5 1071.5,1639.5 1065.9,1645.5 1056.5,1650.5 1050.5,1651.7 1047.5,1651.5 1044.5,1650.1 1041.5,1645.5 1039.8,1633.5 1041.1,1624.5 1043.5,1621.5ZM855.1,1678.5 885.5,1676.9 912.5,1676.7 972.5,1680 981.5,1681.8 1005.5,1689 1008.5,1691.3 1009.4,1693.5 1009,1696.5 1005.9,1702.5 1000.7,1708.5 990.5,1715.2 978.5,1717.9 924.5,1723.6 837.5,1722.2 816.5,1720.8 771.5,1712.9 765.5,1709.7 762.5,1705.6 761.5,1702.5 761.4,1699.5 762.5,1696.5 766.2,1693.5 780.4,1687.5 795.5,1682.5 807.5,1681 855.1,1678.5Z"/>
<path fill="#00acff" fill-rule="evenodd" d="M1096.4,1324.5 1119.5,1322.7 1158.5,1324.7 1179.5,1327.8 1230.5,1338 1265.9,1342.5 1300.6,1348.5 1329.5,1354.1 1338.5,1356.9 1350.8,1363.5 1363.8,1372.5 1374.7,1381.5 1381.5,1390.5 1384.6,1402.5 1389.1,1429.5 1389.7,1438.5 1380.7,1489.5 1369.9,1519.5 1363.2,1531.5 1356.5,1537.4 1323.5,1560.4 1311.5,1566.9 1257.5,1579.1 1227.5,1583.3 1176.5,1585.3 1134.5,1585.5 1080.5,1580.4 1002.5,1568.2 957.5,1557.2 948.5,1553 930.6,1534.5 924.3,1525.5 920.9,1516.5 914.2,1489.5 892,1441.5 889.5,1432.5 889.3,1426.5 890.6,1417.5 893.9,1408.5 901.8,1399.5 918.5,1386.5 960.2,1363.5 984.5,1347.9 994.9,1342.5 1014.5,1335.7 1026.5,1332.6 1096.4,1324.5Z"/>
<path fill="#00dcfe" fill-rule="evenodd" d="M1099.7,1330.5 1122.5,1329.1 1173.5,1332.5 1247.2,1348.5 1296.6,1363.5 1308.5,1370.4 1347.5,1397.5 1353.5,1402.7 1359.5,1412.2 1368.2,1432.5 1370.7,1444.5 1370.4,1474.5 1369,1486.5 1362.5,1503.7 1354.6,1519.5 1348.8,1525.5 1340.5,1531.5 1318.3,1546.5 1308.5,1551.3 1257.5,1567.2 1230.5,1571 1170.5,1575.4 1131.5,1574.5 1083.5,1571.5 1054.7,1567.5 1011.5,1558.8 1002.5,1556.3 995.7,1552.5 989.1,1546.5 979.2,1534.5 970.8,1522.5 968,1516.5 958.9,1477.5 935.1,1420.5 934.1,1411.5 936.2,1405.5 947,1390.5 956.7,1381.5 996.3,1354.5 1013.8,1345.5 1023.5,1341.5 1038.5,1337.9 1099.7,1330.5Z"/>
<path fill="#1cffdb" fill-rule="evenodd" d="M1085,1339.5 1119.5,1336.7 1179.5,1340.1 1236.5,1353.5 1278.5,1370.6 1290.5,1377 1321.6,1402.5 1329.5,1414.5 1334,1426.5 1339.5,1450.5 1340.6,1477.5 1338.2,1489.5 1328.3,1507.5 1320,1516.5 1307.4,1525.5 1290.5,1536.1 1278.5,1541.1 1236.5,1553.6 1173.5,1560.3 1149.5,1561.2 1080.5,1558.6 1062.5,1557.1 1053.5,1555.4 1014.5,1544.3 1005.5,1541.2 999.5,1538 993.5,1532.7 984.5,1521 980.1,1513.5 978.1,1507.5 977.6,1498.5 978.6,1477.5 971.5,1441.5 970.3,1429.5 970.8,1417.5 973.5,1408.5 983.4,1390.5 991.6,1378.5 1009,1360.5 1020.3,1351.5 1026.5,1348.6 1035.5,1346.4 1085,1339.5Z"/>
<path fill="#43ffb4" fill-rule="evenodd" d="M1108.9,1345.5 1122.5,1345 1173.5,1347 1197.5,1350.8 1236.5,1361.6 1261.7,1372.5 1275.5,1379.6 1283,1384.5 1288.9,1390.5 1301,1405.5 1304,1411.5 1305.5,1417.5 1310.5,1459.5 1310.8,1471.5 1306.8,1489.5 1304.3,1495.5 1300.3,1501.5 1288.8,1513.5 1278.5,1521.7 1269.5,1525.7 1242.5,1535 1224.5,1538.8 1161.5,1544.9 1137.5,1544.8 1074.5,1540.7 1062.5,1538.1 1029.5,1528.5 1021.5,1525.5 1016.8,1522.5 1010.9,1516.5 1006.8,1510.5 1001.9,1498.5 998.1,1474.5 991.4,1447.5 989.1,1432.5 989.2,1423.5 993.5,1412.5 1017.6,1369.5 1022.1,1363.5 1026.5,1359.9 1035.5,1356.8 1068.5,1350.4 1108.9,1345.5Z"/>
<path fill="#6aff8d" fill-rule="evenodd" d="M1102.9,1354.5 1119.5,1353.3 1173.5,1354.7 1191.5,1356.7 1203.5,1359.3 1234.8,1369.5 1254.7,1378.5 1264.3,1384.5 1271.5,1390.5 1273.3,1393.5 1273.8,1396.5 1273.1,1399.5 1269.5,1403.1 1257.5,1404.8 1098.5,1404.5 1053.5,1400.8 1042.8,1396.5 1036.7,1390.5 1035.2,1384.5 1036.3,1378.5 1039.8,1372.5 1044.5,1368.9 1068.5,1358.9 1102.9,1354.5ZM1113.1,1429.5 1179.5,1428.1 1236.5,1433.9 1248.5,1436.6 1254.5,1439.6 1269.5,1449.5 1278.5,1457.5 1281.7,1462.5 1285,1471.5 1286.4,1480.5 1285.8,1486.5 1280.9,1495.5 1273.1,1504.5 1266.5,1509.6 1257.5,1513.5 1236.5,1520.2 1218.5,1524.7 1170.5,1529.5 1134.5,1531 1098.5,1529 1071.5,1525.9 1062.5,1523.7 1047.5,1517.7 1034.1,1510.5 1027.1,1504.5 1021.6,1492.5 1019.8,1483.5 1019.9,1477.5 1021.8,1471.5 1025.1,1465.5 1033.2,1453.5 1038.5,1447.6 1044.5,1443.8 1053.5,1440.3 1086.5,1431.4 1095.5,1430 1113.1,1429.5Z"/>
<path fill="#8dff6a" fill-rule="evenodd" d="M1101.1,1363.5 1122.5,1362.3 1176.5,1364.3 1189.1,1366.5 1199.4,1369.5 1206,1372.5 1209.7,1375.5 1211.3,1378.5 1210.6,1381.5 1207.3,1384.5 1199.9,1387.5 1180.8,1390.5 1161.5,1391.8 1113.5,1391.8 1074.5,1389.5 1062,1387.5 1055.7,1384.5 1053.6,1381.5 1054.2,1378.5 1056.9,1375.5 1068.5,1368.5 1077.5,1366.1 1101.1,1363.5ZM1098,1441.5 1122.5,1440.1 1176.5,1439.5 1218.5,1444.5 1233.5,1447.2 1246.3,1453.5 1254.5,1459.5 1260.8,1465.5 1262.8,1468.5 1264.7,1474.5 1264.6,1483.5 1262.3,1489.5 1257.5,1494.7 1247.2,1501.5 1239.5,1505.1 1218.5,1510.4 1176.5,1517.3 1125.5,1519.2 1095.5,1518.5 1071.5,1515 1062.5,1512.9 1050.5,1507.9 1042.1,1501.5 1035.8,1492.5 1034.6,1486.5 1034.9,1480.5 1039,1471.5 1050.5,1456.7 1056.5,1452 1065.5,1448.4 1098,1441.5Z"/>
<path fill="#b4ff43" fill-rule="evenodd" d="M1104.5,1450.5 1128.5,1448.6 1170.5,1449.5 1185.5,1450.5 1201.8,1453.5 1218.5,1457.2 1227.5,1461.1 1235.6,1468.5 1238.6,1474.5 1238.7,1477.5 1234.8,1486.5 1228.6,1492.5 1224.5,1494.7 1197.5,1502.9 1179.5,1506.4 1128.5,1509.5 1098.5,1508.8 1068.5,1504.7 1061.3,1501.5 1054,1495.5 1050.5,1489.5 1050.3,1480.5 1055.2,1471.5 1062.5,1463.5 1068.5,1459 1074.5,1456.4 1089.5,1452.7 1104.5,1450.5Z"/>
<path fill="#dbff1c" fill-rule="evenodd" d="M1100.1,1459.5 1119.5,1457.3 1137.5,1456.5 1182.5,1460.3 1198.2,1465.5 1206.5,1470 1210.5,1474.5 1211.3,1477.5 1210.8,1480.5 1205.3,1486.5 1191.5,1493.5 1173.5,1497.3 1146.5,1500.4 1122.5,1500.9 1098.5,1499.8 1080.5,1495.9 1071.5,1491.6 1068.5,1487.9 1067.1,1483.5 1068.3,1477.5 1070.5,1474.5 1077,1468.5 1083.5,1464.6 1089.5,1461.9 1100.1,1459.5Z"/>
<path fill="#feed00" fill-rule="evenodd" d="M1135.1,1465.5 1149.5,1466 1173.5,1470.5 1180.5,1474.5 1182.2,1477.5 1181.8,1480.5 1176.5,1484.9 1167.5,1488.4 1152.5,1491.1 1137.5,1492.3 1104.5,1490.8 1095.5,1488.1 1088.7,1483.5 1087.7,1480.5 1088.7,1477.5 1092.5,1474 1101.5,1469.5 1113.5,1466.9 1135.1,1465.5Z"/>
</g>
<g shape-rendering="crispEdges" clip-path="url(#clip2)">
<rect x="78.5" y="2102.5" width="1331" height="656" fill="#0000c8"/>
<path fill="#0040ff" fill-rule="evenodd" d="M1350.6,2231.5 1409.5,2230.5 1409.5,2598.9 1359.5,2598 1260.5,2590.7 1161.5,2585.7 1050.5,2586 852.5,2605.6 747.5,2614.9 735.5,2617.6 660.5,2640.9 639.5,2646.4 594.5,2655.1 552.5,2657.5 495.5,2655.6 387.5,2647.8 285.5,2642.6 78.5,2647.6 78.5,2234.6 90.2,2237.5 129.5,2244.2 174.5,2253.1 234,2267.5 282.5,2277.1 336.5,2282.7 387.5,2283.9 447.5,2281.3 549.5,2272.1 649.7,2264.5 696.5,2259.7 738.5,2252.8 756.5,2251.2 954.5,2241.5 1350.6,2231.5Z"/>
<path fill="#00c0ff" fill-rule="evenodd" d="M1213.6,2267.5 1353.5,2266.6 1409.5,2267.8 1409.5,2541.6 1359.5,2538.4 1257.5,2528.5 1170.5,2523.9 1152.5,2524.1 1050.5,2536.7 855.5,2556.3 744.5,2563.6 715.9,2570.5 696.5,2576.3 641.4,2600.5 606.5,2614.6 594.5,2618.4 579.5,2620.3 492.5,2626.4 381.5,2622.3 285.5,2611.4 177.5,2597 78.5,2586.1 78.5,2283 135.5,2288.2 180.5,2295.8 231.5,2305.9 282.5,2312.7 333.5,2316.4 378.5,2316.6 396.5,2315.7 489.5,2306.5 537.5,2304.1 594.5,2303.9 645.5,2306.1 687.5,2304.3 702.5,2302.8 738.5,2295.6 750.5,2294.1 948.5,2284.2 1050.5,2282.9 1155.5,2269.1 1213.6,2267.5Z"/>
<path fill="#49ffad" fill-rule="evenodd" d="M1406.2,2324.5 1409.5,2324.3 1409.5,2496.9 1395.5,2494 1368.5,2490.3 1263.5,2479.5 1203.5,2463 1167.5,2455.6 1155.5,2454.6 1131.5,2459.2 1059.5,2482.9 1038.5,2487.9 948.5,2505.5 861.5,2516.5 843.5,2516.9 804.5,2507.3 797.5,2504.5 789.8,2498.5 775.7,2480.5 762.5,2453.7 747.8,2438.5 741.5,2423.3 729.8,2411.5 727.5,2408.5 725.1,2402.5 725.9,2393.5 728.9,2387.5 734.1,2381.5 748.1,2372.5 768.5,2361.9 784.8,2357.5 903.5,2334.4 990.5,2327.7 1008.5,2327.4 1101.5,2334.3 1155.5,2343.8 1167.5,2342 1209.5,2329.8 1251.5,2325.2 1266.5,2324.9 1317.5,2329.1 1406.2,2324.5ZM78.5,2330.5 78.5,2329.9 87.5,2330.5 126.5,2334.5 171.5,2343 192.5,2348.3 273.5,2372.6 282.5,2374.7 291.5,2375.5 324.5,2374.1 335.3,2372.5 342.5,2369.7 363.5,2358 371.7,2354.5 403.3,2345.5 420.5,2341.7 450.5,2338.1 468.5,2339.5 486.5,2342.3 495.5,2346 499.1,2348.5 504.1,2354.5 505.6,2360.5 505.3,2369.5 506.2,2375.5 510.5,2385 516.5,2393.8 526.8,2402.5 543.5,2411.3 555.5,2413.7 570.5,2413.8 588.5,2409.1 618.5,2398.1 627.5,2396.7 636.5,2396.6 645.5,2397.4 654.5,2399.7 698.3,2417.5 708.5,2426.2 716.5,2438.5 731.7,2474.5 733.4,2480.5 733.4,2486.5 730,2495.5 725.7,2501.5 720.5,2505.8 711.2,2510.5 693.5,2516.1 654.5,2522.2 642.5,2525.7 621.5,2536.6 600.6,2552.5 591.5,2558.2 549.5,2575.2 531.6,2579.5 489.5,2585.5 441.5,2587.9 399.5,2588.1 330.5,2584.8 285.5,2580.2 239.7,2573.5 129.5,2553.1 78.5,2547.9 78.5,2330.5Z"/>
<path fill="#b1ff46" fill-rule="evenodd" d="M1020.6,2369.5 1029.5,2369.4 1038.5,2370.8 1068.5,2378.3 1077.8,2381.5 1087.1,2387.5 1095.6,2396.5 1097.8,2402.5 1096.3,2408.5 1089.3,2417.5 1079.8,2423.5 1044.5,2432.9 1029.5,2434.7 993.5,2430.3 975.5,2426.9 945.5,2415.2 939.6,2411.5 937.1,2408.5 935.6,2402.5 937.5,2396.5 942.5,2391.6 950.1,2387.5 978.5,2376.4 1020.6,2369.5ZM1232.9,2393.5 1239.5,2392.7 1247.8,2393.5 1261,2396.5 1269.6,2399.5 1278.3,2405.5 1283,2411.5 1284,2417.5 1282.5,2420.5 1276,2426.5 1271.1,2429.5 1260.5,2432.7 1239.5,2432.5 1230.5,2429.8 1224.1,2426.5 1212.2,2417.5 1209.8,2411.5 1210.2,2408.5 1211.8,2405.5 1215.5,2402.1 1225.2,2396.5 1232.9,2393.5ZM79.5,2399.5 120.5,2397.1 138.5,2398.5 180.5,2407 231.5,2419.4 285.5,2426.1 327.5,2440.3 336.5,2442.4 348.5,2441.8 387.5,2435.2 402.5,2434.7 417.5,2435.6 426.8,2438.5 436.3,2444.5 439.1,2447.5 442.2,2453.5 443.6,2462.5 441.9,2468.5 437.7,2474.5 432.5,2478.9 426.5,2481.6 354.5,2489.5 339.5,2492.7 333.5,2495.9 313.2,2513.5 300.1,2522.5 288.5,2528.7 276.8,2531.5 243.5,2533.3 231.5,2532.8 174.5,2519.8 129.5,2513.1 84.5,2508.3 78.5,2507 78.5,2399.6 79.5,2399.5ZM1408.2,2408.5 1409.5,2407.7 1409.5,2475.5 1400.5,2471.5 1390.5,2462.5 1385.6,2453.5 1383.2,2441.5 1385.1,2432.5 1390.1,2423.5 1398.5,2415.3 1408.2,2408.5Z"/>
</g>
<defs><path id="coast" d="M292.5,173.8 303.8,169.7 318.4,169.7 316.2,174.2 303.8,175.6 292.5,175.6 292.5,173.8M325.2,165.9 335.3,163.7 342,165.2 339.8,169.3 326.3,169.3 325.2,165.9M310.5,177.1 328.5,174.9 356.7,175.6 356.7,180.1 337.5,181 310.5,180.5 310.5,177.1M279,188.4 283.5,182.3 303.8,181.6 337.5,183.9 360.1,183.9 362.3,188.4 348.8,191.4 330.8,190 303.8,188.4 290.3,191.8 279,188.4M306,192.9 319.5,192.3 330.8,195.2 328.5,198.1 315,197.4 306,196.3 306,192.9M319.5,202.6 337.5,200.3 373.6,199 375.8,204.2 364.6,207.1 342,207.1 319.5,205.7 319.5,202.6M355.6,162.5 369.1,161.9 380.3,163.7 379.2,168.1 360.1,167.5 355.6,162.5M366.8,173.8 378.1,171.5 388.2,172.6 391.6,178.3 380.3,181 369.1,180.1 366.8,173.8M366.8,186.1 378.1,183.2 389.3,183.9 391.6,190.7 380.3,192.3 371.3,190 366.8,186.1M378.1,199 391.6,196.3 400.6,199 399.5,205.3 387.1,207.5 379.2,204.2 378.1,199M382.6,163.7 396.1,160.3 409.6,162.5 414.1,169.3 407.4,178.3 396.1,181 389.3,176 385.9,169.3 382.6,163.7M389.3,156.9 405.1,153 427.6,155.8 445.6,158.5 436.6,162.5 414.1,161.9 396.1,160.7 389.3,156.9M414.1,176 432.1,173.3 450.1,173.8 456.9,179.4 447.9,185 427.6,184.6 415.2,181 414.1,176M454.6,169.3 468.1,163.7 486.2,160.3 506.4,157.6 504.2,162.1 486.2,165.2 468.1,169.3 454.6,171.5 454.6,169.3M425.3,218.8 441.1,216.5 452.4,219.9 450.1,224.4 434.3,224.4 425.3,218.8M456.9,216.5 472.6,214.3 481.7,217.7 477.1,221 461.4,220.6 456.9,216.5M495.2,212 508.7,210.9 515.4,214.3 508.7,217.7 497.4,216.5 495.2,212M109.2,221.7 119.7,222.8 120.9,224 114.1,223.6 109.2,222.8 109.2,221.7M272.3,270.1 282.8,271.9 290.3,278.7 285.8,278.3 275.3,272.7 272.3,270.1M254.7,257.7 259.6,258.8 261.5,264.8 257,262.2 254.7,257.7M1368.3,536.2 1373.9,539.2 1379.5,544.1 1377.3,544.5 1371.3,540.3 1368.3,537.7 1368.3,536.2M1379.5,516 1380.6,519.7 1384,522.4 1384.8,526.8 1383.3,526.1 1381,521.2 1378.4,517.5 1379.5,516M788.6,299.3 789.4,302.7 787.9,305.3 785.6,303.4 788.6,299.3M787.9,306.1 790.1,308.7 789.4,313.9 784.9,314.3 784.9,308.3 787.9,306.1M799.9,317.7 811.9,317.3 810,322.9 800.2,319.6 799.9,317.7M841.5,327.4 852,328.6 843.4,328.6 841.5,327.4M874.5,329.3 882.7,327.1 877.1,330.8 874.5,329.3M1250.2,334.9 1258.4,332.3 1255.8,335.7 1250.2,334.9M460.9,360.4 464.7,361.2 462.8,366.8 460.2,366 460.9,360.4M929.6,158.7 959.6,156.9 985.8,157.6 970.8,160.6 940.8,160.6 929.6,158.7M78,776.1 93.5,776.8 116.8,775.3 142.7,777.9 168.5,779.4 194.4,780 217.6,777.9M176.2,773.5 178.8,769.6 165.9,764.4 181.4,763.2 202.1,761.8 199.5,758 160.7,752.8 158.1,748.9 176.2,749.4 202.1,745.1 207.3,742.5 222.8,741.7 246.1,738.6 277.1,736 297.8,736.5 323.6,737.3 333.9,740.7 349.5,741.7 375.3,740.7 365,734.7 370.2,729.5 390.8,730.8 411,734.7 418.7,732.1 431.7,733.9 449.8,734.7 467.9,736 483.4,732.9 496.3,732.1 500.2,728.3 498.9,712.7 509.3,706.3 519.6,701.1 535.1,697.7 532.5,699.3 517,703.7 509.3,707.6 506.7,712.7 514.4,717.9 522.2,725.7 524.7,736 514.4,741.2 488.6,745.1 465.3,747.6 461.4,751.5 460.1,756.7 470.5,760.6 488.6,762.4 506.7,763.2 524.7,765.7 535.1,771.7 553.2,769.1 571.3,767 592,767.5 617.8,764.4 643.7,761.8 638.5,758 620.4,758 617.8,752.8 643.7,748.9 669.5,745.1 690.2,741.2 695.4,736 713.5,727.7 726.4,726.2 744,726.9 744,726.9 751.8,728.3 769.9,725.7 782.8,722.6 795.7,725.7 803.5,722.6 813.8,723.6 831.9,722.6 839.6,725.1 860.3,723.6 873.3,720.5 881,716.6 891.4,720 899.1,721.8 904.3,719.2 925,714 937.9,712.2 945.7,708.1 958.6,706.3 966.3,708.1 971.5,711.4 981.9,714 992.2,712.7 1002.6,714 1012.9,715.3 1014.2,720.5 1010.3,723.1 1007.7,729.5 1018,730.8 1028.4,723.1 1043.9,720.5 1049.1,716.6 1062,712.7 1077,712.2 1082.2,708.8 1089.9,712.2 1110.6,712.7 1126.1,712.2 1139.1,706.3 1152,711.4 1167.5,710.2 1180.4,707.6 1190.8,711.4 1203.7,712.7 1214,708.8 1237.3,710.2 1258,708.8 1260.6,705.5 1265.8,711.4 1299.3,711.4 1304.5,714 1330.4,717.9 1348.5,720.5 1361.4,725.1 1387.3,726.2 1395,729.5 1387.3,736 1374.3,738.6 1366.6,745.1 1366.6,751.5 1379.5,755.4 1358.8,756.7 1352.4,763.9 1361.4,768.3 1387.3,773.5 1410,776.8M140.1,755.4 147.8,754.1 155.5,756.7 147.8,758.5 140.1,755.4M550.6,761.8 566.1,754.1 581.6,752 589.4,756.7 589.4,761.8 566.1,763.2 550.6,761.8M470.5,729.5 480.8,726.9 486,719.2 491.1,720.5 496.3,726.2 488.6,730.3 470.5,729.5M165.5,193.2 183.5,195.1 197.4,197 206,197.4 224.7,199.6 239.7,201.8 249.1,200.7 262.2,198.8 273.5,197.4 288.5,198.1 299.7,200 312.8,201.1 326,204.5 341,205.6 355.9,204.5 374.7,206.3 385.9,206.3 387.8,203.7 399.1,191.4 408.4,198.1 414.1,203.7 423.4,205.6 432.8,200 445.9,203.7 447.8,209.3 440.3,213.1 429.1,211.2 430.9,218.7 423.4,220.6 414.1,222.5 404.7,228.1 400.2,231.8 400.2,240.1 406.6,246.8 415.9,246.8 427.2,251.3 434.7,253.2 444.8,254.3 445.9,261.8 451.6,267.4 457.2,267.4 457.9,263.7 457.2,256.2 463.6,252.5 464.7,243.1 462.8,235.6 460.9,227 468.4,226.6 479.7,228.1 485.3,231.1 492.8,237.5 492.8,240.1 499.2,242 506.7,237.5 511.9,234.1 517.2,241.2 521.7,246.8 528.4,252.5 537.8,258.1 543.4,263.7 544.2,267.4 537.8,271.2 528.4,271.9 513.4,272.3 504,273.1 498.4,275.7 490.9,281.3 487.2,285.1 492,282.4 496.5,279.4 504,276.4 511.5,277.6 512.7,278.7 509.7,281.3 510.4,284.3 513.4,286.9 520.9,288.8 524.7,289.9 528.4,288.1 529.2,288.4 526.5,289.9 522.8,291.4 515.3,293.3 507.8,297.1 505.2,294.8 511.5,290.7 505.9,291.1 501.8,292.6 496.5,294.4 490.2,296.7 488.3,300.1 489,303.8 490.9,304.2 490.2,303.1 486.4,304.9 481.5,306.1 475.9,308.3 475.2,312.4 472.2,314.7 470.3,318.1 468.4,321.8 470.3,328.6 466.6,330.4 460.9,333.4 456.4,336 450.1,340.5 448.2,346.9 451.2,353.7 453.1,363.8 451.6,366 449.3,366.4 446.7,362.3 442.9,356.3 443.3,351.8 440.3,348.4 437.3,348 433.2,349.2 429.1,346.5 423.4,346.9 418.6,347.3 418.9,351 414.1,351.4 410.3,349.9 404.7,349.2 397.9,350.7 391.6,354.4 388.2,356.3 389.3,363.4 387.1,370.5 386.7,376.9 388.6,381.8 393.1,388.5 399.1,392.3 406.6,391.2 412.2,390 414.1,386.3 414.8,381.8 417.8,380.7 426.4,379.9 427.6,382.5 425.3,387.4 422.7,394.9 421.6,400.5 423.4,401.3 430.9,400.9 438.4,401.3 441.4,404.3 440.3,409.9 439.6,415.5 439.9,419.3 442.2,423 447.8,427.1 453.4,425.6 455.3,424.5 460.9,426.4 463.9,428.6 466.6,427.9 470.3,421.1 474.1,419.3 478.5,418.1 484.2,414.4 486.4,416.3 484.9,419.3 485.7,421.9 486.8,418.1 490.2,417.4 490.9,414.8 492,417.4 497.7,421.1 505.9,420.8 512.3,420.8 519,420.8 521.7,422.3 524.7,428.3 528.4,428.6 535.2,435 539.7,438 547.2,438.4 552.8,439.5 559.2,443.6 562.2,449.3 564,453.8 565.9,458.6 564,461.2 569.7,462.4 572.3,464.2 577.2,463.1 586.5,467.6 588.4,470.2 597.8,471.4 605.3,471.7 612.8,477.4 621.4,481.1 622.5,488.6 621.8,494.2 616.5,499.9 612.8,505.5 609,509.2 607.2,520.5 606,528 603.4,535.5 599.7,543 595.9,546.7 588.4,546.7 580.9,550.5 572.3,556.1 571.2,565.5 567,571.1 564,576.7 558.4,582.3 554.7,586.8 550.9,590.2 543.4,591.3 538.9,589.8 534.4,589.5 537.8,592.8 540.8,596.6 537.8,602.9 532.2,605.6 519.8,605.9 520.2,612.3 509.7,614.2 511.5,619.8 514.5,620.9 509.7,622.8 507.8,629.2 500.3,634.8 504,637.4 506.7,640.4 499.2,647.9 494.7,653.6 496.9,656.6 490.9,658 485.3,661 482.3,660.3 475.9,657.3 472.2,651.7 470.3,642.3 474.1,635.9 470.3,632.9 475.9,625.4 477.1,617.9 477.1,610.4 478.9,599.2 484.5,584.2 485.3,573 487.5,561.7 489,548.6 489.8,529.8 485.3,526.1 472.2,518.6 467.3,513 463.9,505.5 458.3,494.2 454.2,486.7 449.7,483 448.6,477.4 452.3,473.2 451.6,469.9 450.1,464.2 453.1,460.5 457.2,454.9 459.1,451.1 463.6,445.5 462.8,436.1 461.7,432.4 459.1,428.6 455.3,427.1 451.6,430.1 447.8,432.4 444.1,429.8 439.6,427.5 432.1,423 432.1,418.9 427.2,413.6 423.4,411.4 417.8,409.9 410.3,408 404.7,403.1 399.1,399.8 391.6,401.6 384.1,399.4 378.8,397.5 372.8,394.9 365.3,391.9 362.3,389.3 358.6,383.3 358.6,379.9 354.4,373.5 350.3,368.7 343.6,363 337.6,355.9 332.7,351.8 329.7,344.3 323,341.7 324.8,348 330.5,355.5 336.1,363 339.8,369.8 341.3,374.7 339.1,372.4 333.5,368.7 332.7,363 325.2,355.5 319.2,348 315.8,341.3 314,337.9 309.8,334.2 301.6,331.2 299.7,327.4 294.1,319.9 292.2,318.1 289.2,312.4 287,309.1 287.7,303.1 286.6,299.3 288.5,288.1 285.8,279.1 292.2,279.8 294.1,282.4 293,276.8 286.6,273.1 275.3,269.3 273.5,263.7 264.8,257 262.2,252.5 256.6,248.7 251,243.1 241.6,242.3 236.7,240.1 229.6,237.5 221,235.6 213.5,235.6 206,233 198.5,233.7 191,231.1 185.4,233.7 184.2,237.5 177.9,239.3 176,243.1 168.5,245.7 161,249.5 153.5,252.5 146,254.3 136.6,255.8 142.2,253.2 147.9,250.6 151.6,249.5 157.2,245 162.9,241.2 161.7,240.1 151.6,240.5 146,237.5 146,234.8 136.6,233.3 134,230 130.6,228.8 134.7,225.5 136.6,224 146,222.5 149.7,219.5 144.1,218.7 133.2,218.7 129.1,216.8 123.1,214.6 131,212.3 138.5,210.8 146,212.3 146.7,209.3 139.6,206.3 130.2,204.5 130.2,202.2 140.4,200 149.7,197 161,194.7 165.5,193.2M622.1,147.5 659.6,148.6 678.4,153.1 704.6,156.9 685.9,164.4 682.1,175.6 678.4,183.1 670.9,190.6 670.9,196.2 654,203.7 637.1,205.6 622.1,213.1 609,215 599.7,222.5 592.2,233.7 584.7,235.6 573.4,231.8 565.9,226.2 560.3,220.6 552.8,211.2 562.2,203.7 550.9,200.7 558.4,196.2 545.3,188.7 534,177.5 520.9,174.9 498.4,173.7 487.2,170 481.5,166.2 502.2,160.6 528.4,155 573.4,152 622.1,147.5M667.1,211.2 693.4,212.3 702.4,216.1 695.3,220.6 682.1,222.8 668.3,221 663.4,217.6 661.5,215 667.1,211.2M453.4,184.2 430.9,184.2 419.7,188.7 438.4,196.2 455.3,198.8 468.4,203.7 479.7,209.3 479.7,215 470.3,218.7 487.2,226.2 507.8,227 509.7,222.5 515.3,216.8 520.9,211.2 504,203.7 496.5,196.2 487.2,190.6 464.7,186.9 453.4,184.2M460.9,173.7 472.2,164.4 517.2,156.9 509.7,151.2 472.2,149.4 415.9,151.2 397.2,158.7 408.4,164.4 419.7,171.9 442.2,174.5 460.9,173.7M341,186.9 311,192.5 311,196.2 322.2,201.8 355.9,201.8 372.8,198.1 370.9,190.6 352.2,185.7 326,185 341,186.9M430.9,216.8 449.7,218.7 442.2,222.5 430.9,220.6 430.9,216.8M555.8,282.1 552.8,285.1 545.3,284.3 541.5,281.3 531,282.1 538.5,271.2 544.5,267.1 545.3,274.9 552.8,276.1 555.8,282.1M850.1,194.4 858.4,194.4 869.6,197 877.1,200.7 888.3,201.5 907.1,206.7 901.5,212.3 888.3,211.2 882.7,216.8 892.1,220.6 905.2,218.7 910.8,211.2 918.3,213.1 918.3,205.6 925.8,204.5 937.1,205.6 952.1,203.7 959.6,204.5 974.6,202.6 982.1,198.8 997.1,201.1 1010.2,203.7 1004.6,198.1 1003.5,192.5 1013.9,187.2 1023.3,188 1025.2,192.5 1023.3,195.1 1028.9,203.7 1023.3,211.2 1030.8,207.5 1032.7,201.8 1028.9,192.5 1034.6,188.7 1051.4,189.5 1055.2,185 1075.8,183.1 1079.6,178.6 1098.3,176.7 1117.1,174.9 1128.3,173.7 1144.4,169.2 1154.5,172.6 1169.5,173.4 1178.9,177.1 1173.3,183.1 1184.5,184.6 1203.3,186.9 1214.5,185 1229.5,185 1235.2,188.7 1244.5,194.4 1252,192.9 1263.3,192.1 1274.5,193.2 1282,188 1297,189.5 1312,190.2 1323.3,194.7 1342,194.4 1353.3,196.2 1364.5,199.6 1381.4,199.6 1390.8,198.1 1400.1,198.8 1413.2,198.8 1428.2,202.2M78.5,202.2 89.7,203.7 101,208.6 110.4,210.1 117.1,213.1 112.2,215 106.6,218.7 95.4,213.8 84.1,215.3 78.5,216.8M1428.2,216.8 1422.6,218.7 1418.9,226.2 1407.6,228.8 1398.3,232.6 1390.8,235.6 1379.5,234.8 1372,236 1365.6,236.3 1361.5,242 1364.5,249.8 1360.8,254.3 1353.3,258.1 1347.6,262.6 1340.5,269.3 1338.3,260 1336.4,252.5 1340.1,243.8 1345.8,243.1 1353.3,237.1 1360,233.3 1366.4,228.1 1355.1,230 1340.1,230 1330.8,238.2 1315.8,237.1 1304.5,238.2 1289.5,238.2 1280.1,245 1270.8,248.7 1266.3,255.8 1270.8,259.2 1283.1,260.7 1280.1,273.1 1279.4,280.6 1271.9,285.1 1261.4,296.3 1252,300.1 1247.9,298.9 1243.4,301.9 1239.7,306.8 1233.3,311.3 1234.8,314.3 1238.9,321.8 1237.4,328.9 1231.4,330.8 1227.7,331.2 1226.9,327.4 1228,321.8 1226.5,319.2 1223.2,318.1 1223.2,312.4 1219.4,310.6 1210.8,308.7 1207.8,307.2 1207,310.6 1201.4,310.9 1197.7,314.3 1194.7,313.6 1195.8,318.1 1199.2,319.9 1205.2,318.8 1213,320.3 1212.3,322.2 1204.4,325.6 1200.7,331.2 1205.2,336.8 1210,342.4 1207.8,345.8 1210.8,348.4 1208.9,353.7 1206.3,355.9 1201.8,363 1196.5,368.7 1192,372 1186.4,375 1181.5,376.2 1178.9,377.3 1173.3,378.8 1169.5,380.3 1166.2,384.4 1164.7,379.9 1160.2,379.5 1154.5,381.8 1152.7,384.8 1150,389.3 1152.7,393 1154.5,396.8 1159,400.5 1161.3,404.3 1162.8,409.9 1162.8,414.4 1161.3,418.1 1155.3,421.1 1152.7,424.9 1148.9,426.8 1146.3,428.3 1146.3,423.8 1145.2,421.1 1141.4,420.8 1139.6,419.3 1136.9,414.8 1132.1,412.9 1130.2,409.9 1128.3,411 1127.6,415.5 1125.3,421.1 1125.3,424.9 1129.1,429.4 1130.2,434.3 1133.2,434.6 1136.9,438 1139.6,439.9 1141.1,445.5 1141.4,450.4 1144,455.3 1141.4,455.6 1138.8,453.4 1135.1,451.1 1133.2,449.3 1130.9,445.9 1129.8,441.8 1129.1,436.9 1126.8,434.3 1123.4,429.4 1121.9,427.9 1123.1,423 1123.1,415.5 1121.6,409.9 1119.7,404.3 1119.7,398.6 1117.8,397.5 1114.4,398.6 1111.1,401.3 1107.7,400.5 1106.9,394.9 1105.8,389.3 1102.8,385.5 1099.4,381.8 1097.6,378 1094.6,375.4 1092.7,378 1088.9,378.8 1085.2,379.5 1079.6,379.9 1077.7,385.5 1072.1,387.8 1068.3,392.3 1061.9,396.8 1058.2,400.5 1054.4,402.4 1054.4,411.8 1052.9,417.4 1052.6,421.9 1049.6,425.6 1046.6,427.1 1043.9,430.1 1040.6,427.1 1039.1,423 1037.2,417.4 1033.8,412.1 1031.9,406.1 1030.1,402.4 1028.2,396.8 1026.3,389.3 1026.7,383.7 1025.6,381 1025.6,376.9 1023.3,379.5 1021.4,381.8 1017.7,382.5 1012.1,376.9 1013.9,375.4 1017.7,374.3 1010.2,372.4 1006.5,371.3 1003.8,367.5 997.1,365.7 985.8,366 976.5,365.3 970.8,364.5 968.2,363.8 966,359.3 963.3,358.9 957.7,360.8 952.1,359.7 946.5,356.3 942,351 939,348 935.2,348.4 933.3,349.9 935.2,353.7 937.8,358.2 941.6,361.9 943.1,366 944.6,368.3 946.8,365.3 946.5,369.8 950.2,369.8 955.8,370.2 961.5,365.3 964.1,362.3 964.8,367.5 969,371.3 973.1,372 977.6,376.2 975.7,380.7 972.7,383.7 970.1,389.3 965.2,393 960.7,395.6 955.8,397.1 949.1,400.5 944.6,403.5 939,405.8 933.3,408 924,411 916.5,413.3 915.3,409.9 913.5,400.5 910.8,394.9 907.1,387.4 903.3,382.5 899.6,376.2 897.7,370.5 894,366.8 890.2,361.2 886.5,355.5 884.2,353.3 884.2,349.9 883.1,353.7 881.6,356.3 879,354.4 875.6,348.4 874.9,349.9 877.1,354.4 880.5,359.3 883.1,364.5 886.8,370.5 891.3,378 892.8,385.5 894,391.2 897.7,394.9 900.3,400.5 903.3,404.3 909,408.8 912.7,412.5 915.3,417 918.3,421.5 924,420.8 929.6,418.9 937.1,418.1 942.7,417 945.3,416.3 945,421.1 943.8,424.9 940.1,431.3 937.1,437.3 933.3,443.3 929.6,448.5 924,453 918.3,456.8 912.7,462.4 909,467.2 905.2,469.9 902.2,475.5 900.3,479.2 900.7,484.9 901.5,490.5 902.6,496.1 905.2,499.9 905.2,507.4 906,516.7 901.5,521.2 892.1,526.1 886.5,531.7 883.8,535.5 886.5,543 886.5,550.5 879,555.3 876.7,557.6 876.4,561.7 874.9,567.3 869.6,573 865.9,577.8 860.2,582.3 854.6,586.1 849.4,588 841.5,588 835.9,588.7 828.4,591 823.9,589.1 822.4,588 822,582.3 820.1,576.7 814.9,567.7 810.4,561.7 808.1,552.3 807.4,546.3 803.2,537.3 797.6,528 797.6,522.4 799.1,516.7 800.6,511.1 805.1,505.5 803.2,498 802.9,493.5 800.2,486.7 799.5,483 796.5,475.5 790.9,471 787.1,464.2 788.2,458.6 789.4,451.1 788.2,445.5 785.2,443.3 779.6,444 775.1,444.4 770.2,437.3 766.1,436.5 759,437.3 753.4,439.1 745.9,442.5 738.4,441 732.8,441.4 725.3,444 719.6,441.8 712.1,435.8 706.5,432.4 703.9,428.6 702.8,424.9 697.9,420 695.3,417.4 690.8,413.6 690.4,408.8 688.1,405.4 690.4,402.4 692.3,396.8 693,389.3 691.5,385.5 689.6,382.5 692.6,376.2 694.1,372.4 699,366.8 700.9,361.2 706.5,356.3 712.1,354.8 715.9,349.9 716.6,346.2 718.5,338.7 723.4,334.5 729,331.2 731.3,326.3 733.5,325.9 738.4,328.6 744,328.9 749.6,327.1 757.1,323.7 764.6,322.6 772.1,322.6 779.6,321.8 785.2,322.2 790.9,320.7 794.6,321.8 792.7,324.4 794.6,327.4 791.6,331.9 795.4,336 800.2,337.5 809.6,339.4 811.5,342.4 819,344.3 824.6,346.9 828.4,344.3 828.4,340.5 834,337.5 839.6,338.3 845.2,340.5 849,342.4 854.6,343.2 862.1,344.7 867.7,342.8 873,342.8 875.2,343.9 881.6,343.2 883.1,341.3 884.6,337.5 886.5,333 887.6,327.4 888,323.7 884.6,323.3 880.8,324.4 875.2,325.2 869.6,322.6 865.9,324.4 860.2,322.9 856.5,321.8 854.6,318.1 852.7,315.8 853.9,312.4 851.6,310.2 855.7,309.1 862.1,307.9 862.9,306.1 859.1,304.9 858.4,303.1 857.6,300.1 860.6,297.4 861.4,293.7 864.7,291.1 868.9,286.2 872.6,285.8 877.1,288.1 875.2,290.3 879,293.7 882.7,293.7 888.3,291.8 885.7,290.7 886.1,288.1 894,284.3 899.6,283.6 897,286.2 894.7,289.9 895.8,294.4 901.5,297.4 907.1,300.4 909.3,304.6 909,306.1 903.3,307.2 895.8,307.2 890.2,305.7 884.6,303.1 879,303.1 873.4,304.6 869.6,306.4 864,306.1 862.1,306.8 858.4,307.2 854.6,308.3 851.6,308.7 850.5,307.6 843.4,307.6 839.6,309.1 838.1,309.8 839.6,312.4 838.9,316.2 843.4,317.7 840.4,318.4 838.9,321.8 835.1,322.6 832.5,318.1 832.1,316.6 829.1,312.8 826.5,308.3 826.5,303.8 822.7,301.2 819,299.3 815.2,297.4 810.7,294.8 807,291.1 804.4,289.2 799.5,290.3 800.2,292.6 799.9,295.6 804,297.1 807.7,301.2 812.6,303.1 816.4,305.7 820.9,308.3 822.7,310.2 820.1,309.4 817.1,308.7 815.2,311.7 817.5,313.9 815.2,316.2 813.7,318.4 812.2,318.4 812.6,316.2 814.1,314.3 811.9,310.6 809.6,309.4 805.9,307.6 802.1,305.7 797.6,303.1 794.6,300.8 792.7,299.3 791.6,295.9 786.7,294.1 782.2,296.3 777.7,298.9 773.6,298.2 770.2,297.4 766.5,298.2 765,301.2 765.4,303.4 761.6,305.7 757.1,306.8 753.4,310.6 752.2,312.4 753.7,315.1 750.7,319.6 747.7,320.3 745.1,322.9 740.3,322.9 736.9,322.9 733.5,325.2 732.4,325.6 730.1,324.1 729.4,322.6 725.6,321.1 720.8,321.4 720,316.2 717.8,315.4 720,310.6 720.8,304.9 720,303.1 718.5,299.3 722.3,297.4 724.5,296.7 731.6,297.1 739.1,297.4 746.6,297.8 748.1,293.7 748.9,288.8 746.6,286.2 744.7,283.6 740.3,281.7 736.5,281.3 735.8,279.1 740.3,277.6 747.4,277.9 746.2,274.2 748.9,275.3 754.1,275.3 759.4,272.3 760.5,269.3 764.6,268.2 768.4,265.9 770.6,263.7 772.1,261.8 775.9,260.3 780.4,260.7 785.2,258.8 786.7,256.2 783.7,252.5 784.1,248.3 785.6,246.5 793.1,244.2 792.7,248.7 791.6,251.3 790.9,254.3 791.6,256.6 794.6,258.1 798.4,257.3 805.1,258.1 807,258.5 813.4,257 819,255.1 823.1,256.2 826.5,256.6 832.1,254.3 832.1,250.6 834,246.8 837.7,244.2 843.4,246.8 844.5,243.1 841.5,241.2 841.5,238.6 846,237.5 852.7,237.1 858.4,237.5 865.9,235.6 862.1,234.5 854.6,233.7 847.1,234.8 839.6,235.6 837.7,233.7 834,230 833.2,226.2 837.7,222.5 843.4,219.8 848.2,216.8 848.2,214.6 843.4,213.8 837,214.6 833.2,218.7 830.2,221.3 824.6,223.2 819,226.2 818.2,230 819,233.7 822.7,236.3 822.7,238.2 816.4,241.2 815.6,245 813.4,249.8 807.7,250.6 802.1,252.8 801.4,248.7 797.6,244.2 795.4,239.7 792.7,237.5 791.6,239.3 787.1,240.1 779.6,243.1 774.4,241.2 772.9,238.2 772.1,234.1 772.1,230 772.1,228.1 777.7,225.5 787.1,222.5 792.7,219.1 796.5,216.8 800.2,213.1 804,209.3 807.7,207.5 811.5,204.5 815.2,201.8 820.9,199.6 828.4,198.1 835.9,197 841.5,195.9 850.1,194.4M944.6,284.3 937.1,286.2 931.5,293.7 935.2,303.1 940.8,308.7 937.1,316.2 942.7,321.8 954,321.8 952.1,314.3 952.1,308.7 950.2,303.1 942.7,293.7 952.1,289.9 946.5,284.3 944.6,284.3M742.1,240.8 746.6,245 742.9,250.6 747.7,254.3 752.6,258.1 754.5,261.8 759.7,263.7 758.6,267.8 754.5,270.1 745.9,270.8 732,272.7 737.6,268.6 734.6,267.1 736.5,262.6 742.1,260.7 740.3,256.2 734.6,254.3 730.9,248.7 734.6,241.2 742.1,240.8M726,253.2 730.9,258.1 729.8,264.8 717.8,267.4 715.9,260 722.3,254.3 726,253.2M1283.9,304.9 1278.3,310.6 1277.5,316.2 1272.7,319.9 1265.2,322.6 1263.3,326.3 1252,327.4 1244.5,331.9 1244.5,333.4 1250.2,333.8 1257.7,330.8 1260.3,333.8 1262.5,334.9 1266.3,331.2 1271.5,330.8 1277.5,329.3 1281.3,326.7 1281.3,321.8 1282,316.9 1285.8,312.1 1283.9,308.7 1283.9,304.9M1285.8,289.9 1291.4,294.8 1298.9,297.4 1290.6,303.1 1282,304.9 1278.3,301.2 1283.9,297.4 1285.8,289.9M1240.8,334.9 1241.5,343.2 1244.5,344.3 1247.5,337.5 1244.5,333.4 1240.8,334.9M1288.8,257 1290.3,265.6 1294,276.8 1291,286.9 1285.8,288.1 1286.1,276.8 1284.3,265.6 1288.8,257M1208.9,365.7 1206.3,378 1203.7,374.3 1207,366.8 1208.9,365.7M1167.7,385.5 1163.9,392.3 1160.5,389.3 1167.7,385.5M1206.3,391.2 1202.5,400.5 1205.5,408 1208.9,408.8 1218.3,409.9 1212.7,408 1209.7,400.5 1211.5,391.2 1206.3,391.2M1223.9,424.1 1227.7,434.3 1223.2,438 1218.3,436.1 1210.8,434.3 1216.4,428.6 1223.9,424.1M1210.8,416.3 1218.3,413.6 1224.7,419.3 1220.9,423 1214.5,424.9 1210.8,421.1 1210.8,416.3M1191.3,434.3 1186,441.8 1177.8,447.4 1165.8,454.9 1162,456.8 1166.5,468 1183,473.6 1189,471 1192,464.2 1199.2,456.8 1195.8,444.4 1196.5,438 1191.3,434.3M1110.7,439.5 1115.2,447.4 1123.8,456.8 1131.3,468 1137.7,475.5 1145.5,482.6 1150.4,475.5 1145.2,468 1137.7,456.8 1131.3,449.3 1118.9,441 1110.7,439.5M1150.8,483 1160.2,486 1169.5,484.9 1175.2,486.7 1182.3,489.4 1182.7,492.4 1169.5,491.2 1158.3,489.4 1148.9,486 1150.8,483M1222,455.6 1218.3,458.6 1207,458.6 1205.2,464.2 1199.5,471.7 1201.4,481.1 1205.2,481.1 1207,471.7 1214.5,477.4 1215.7,464.2 1208.9,463.5 1218.3,457.5 1222,455.6M1184.5,492 1190.2,493.5 1199.5,492.7 1207,492.7 1214.5,492 1207,493.5 1195.8,494.2 1184.5,493.1M1229.5,492.4 1222,495 1216.4,499.1 1220.2,497.2 1229.5,492.4M1233.3,453 1235.2,460.5 1233.3,464.2 1231.4,456.8 1233.3,453M1233.3,471.7 1242.7,472.9 1237,474.4 1233.3,471.7M1244.5,463.5 1243.8,466.1 1252,469.9 1252,475.5 1263.3,479.2 1272.7,488.6 1280.1,492.4 1287.6,494.2 1297,490.5 1306.4,498 1317.6,500.6 1308.3,492.4 1307.5,484.9 1300.8,481.1 1293.3,473.6 1282,469.9 1270.8,466.1 1255.8,465 1244.5,463.5M1308.3,481.1 1315.8,481.1 1324.4,476.2 1321.4,479.2 1315.8,483.7 1308.3,481.1M1334.5,483 1342,488.6 1353.3,494.2 1358.9,498 1349.5,496.1 1338.3,486.7 1334.5,483M1287.6,500.6 1292.1,513 1298.5,520.5 1303.8,532.8 1313.9,543 1321.4,550.5 1327.4,559.8 1329.3,567.7 1325.1,580.5 1320.3,588 1315.8,601.1 1308.3,602.2 1301.9,606.7 1295.1,602.9 1291.4,605.9 1280.1,602.9 1271.5,594.3 1268.9,591.7 1270.4,586.1 1263.3,591.7 1261.4,591 1254.7,582.3 1246.4,578.6 1229.5,580.5 1217.2,587.6 1203.3,588 1195,591.7 1184.9,589.5 1186.8,578.6 1184.2,569.2 1177.8,558.7 1178.9,550.5 1180.8,543 1192,538.5 1207,534.7 1211.5,527.6 1214.5,522.4 1222,516.7 1229.5,513 1237,516.7 1240,514.9 1242.7,507.4 1248.3,502.5 1259.5,505.5 1266.3,506.2 1261.4,514.9 1267,520.5 1281.3,526.1 1283.9,516.7 1284.6,507.4 1287.6,500.6M1295.9,614.2 1303.8,623.9 1308.3,620.9 1309.4,614.2 1300.8,613.4 1295.9,614.2M1400.9,589.5 1408.8,597.3 1409.5,601.1 1411.4,601.4 1409.5,604.8 1409.5,608.6 1410.6,616.4 1407.6,615.3 1405.8,608.6 1408.8,602.9 1403.9,595.4 1400.9,589.5M1400.9,612.3 1405.8,615.3 1406.9,617.9 1402,625.4 1394.5,629.2 1387,635.2 1377.6,632.9 1384.4,625.4 1395.6,617.9 1400.9,612.3M938.2,505.5 941.6,520.5 936.3,535.5 929.6,556.1 919.1,554.2 916.5,541.1 920.2,520.5 933.3,511.1 938.2,505.5M1054.1,423.8 1060.1,430.5 1057.8,438 1052.9,436.1 1052.6,428.6 1054.1,423.8M444.1,373.9 453.4,373.5 462.8,378 475.2,384.8 462.8,385.9 459.1,379.9 449.7,378.8 435.1,378.4 444.1,373.9M480.4,386.3 490.9,385.9 496.9,391.2 487.2,392.3 474.4,391.9 480.4,386.3M459.8,391.5 467.7,393 464.7,394.2 459.8,391.5M501.4,391.2 507.4,391.9 505.9,393 501.4,393M792.7,160.6 828.4,158.7 854.6,164.4 835.9,171.9 809.6,171.9 794.6,166.2 792.7,160.6M1008.3,173.7 974.6,179.4 952.1,188.7 959.6,195.9 967.1,190.6 978.3,183.1 1000.8,175.6 1008.3,173.7M1109.6,156.9 1128.3,164.4 1143.3,164.4 1117.1,156.9 1109.6,156.9M1267,177.5 1285.8,176.4 1300.8,179.4 1278.3,181.2 1267,177.5M78.5,192.5 87.9,193.6 80.4,194.7 78.5,194.4M168.9,384.8 172.2,386.7 169.2,389.3 168.9,384.8M165.9,381.8 168.5,382.5 166.6,383.3 165.9,381.8M159.9,379.5 162.1,380.7 160.6,380.7 159.9,379.5M154.2,377.3 156.1,377.3 155.4,378.4 154.2,377.3M181.6,243.1 176,245 175.2,248 181.6,245 181.6,243.1M523.5,653.6 535.9,652.8 534,655.4 526.5,655.4 523.5,653.6M496.9,657.3 508.9,665.9 501,670 490.9,666.7 496.9,657.3M610.9,662.9 618.4,664 610.9,663.7M1012.1,643.4 1017.7,644.9 1013.9,646.8 1012.1,643.4" fill="none" stroke="#000" stroke-width="4.2" stroke-linejoin="round" stroke-linecap="round"/></defs>
<g clip-path="url(#clip0)"><use href="#coast" transform="translate(0,0)"/></g>
<g clip-path="url(#clip1)"><use href="#coast" transform="translate(0,985)"/></g>
<g clip-path="url(#clip2)"><use href="#coast" transform="translate(0,1970)"/></g>
<rect x="78.5" y="132.5" width="1331" height="656" fill="none" stroke="#000" stroke-width="3.33"/>
<rect x="78.5" y="1117.5" width="1331" height="656" fill="none" stroke="#000" stroke-width="3.33"/>
<rect x="78.5" y="2102.5" width="1331" height="656" fill="none" stroke="#000" stroke-width="3.33"/>
<rect x="78.50" y="831.50" width="61.10" height="65.90" fill="#000096"/>
<rect x="139.00" y="831.50" width="61.10" height="65.90" fill="#0000cd"/>
<rect x="199.50" y="831.50" width="61.10" height="65.90" fill="#0000ff"/>
<rect x="260.00" y="831.50" width="61.10" height="65.90" fill="#0020ff"/>
<rect x="320.50" y="831.50" width="61.10" height="65.90" fill="#0050ff"/>
<rect x="381.00" y="831.50" width="61.10" height="65.90" fill="#0080ff"/>
<rect x="441.50" y="831.50" width="61.10" height="65.90" fill="#00acff"/>
<rect x="502.00" y="831.50" width="61.10" height="65.90" fill="#00dcfe"/>
<rect x="562.50" y="831.50" width="61.10" height="65.90" fill="#1cffdb"/>
<rect x="623.00" y="831.50" width="61.10" height="65.90" fill="#43ffb4"/>
<rect x="683.50" y="831.50" width="61.10" height="65.90" fill="#6aff8d"/>
<rect x="744.00" y="831.50" width="61.10" height="65.90" fill="#8dff6a"/>
<rect x="804.50" y="831.50" width="61.10" height="65.90" fill="#b4ff43"/>
<rect x="865.00" y="831.50" width="61.10" height="65.90" fill="#dbff1c"/>
<rect x="925.50" y="831.50" width="61.10" height="65.90" fill="#feed00"/>
<rect x="986.00" y="831.50" width="61.10" height="65.90" fill="#ffc100"/>
<rect x="1046.50" y="831.50" width="61.10" height="65.90" fill="#ff9400"/>
<rect x="1107.00" y="831.50" width="61.10" height="65.90" fill="#ff6c00"/>
<rect x="1167.50" y="831.50" width="61.10" height="65.90" fill="#ff3f00"/>
<rect x="1228.00" y="831.50" width="61.10" height="65.90" fill="#ff1600"/>
<rect x="1288.50" y="831.50" width="61.10" height="65.90" fill="#cd0000"/>
<rect x="1349.00" y="831.50" width="61.10" height="65.90" fill="#960000"/>
<rect x="78.50" y="831.50" width="1331.00" height="65.90" fill="none" stroke="#000" stroke-width="3.33"/>
<line x1="78.50" y1="897.40" x2="78.50" y2="912.00" stroke="#000" stroke-width="3.33"/>
<text x="78.50" y="959.00" text-anchor="middle" class="tl" textLength="63.8" lengthAdjust="spacingAndGlyphs">0.0</text>
<line x1="260.00" y1="897.40" x2="260.00" y2="912.00" stroke="#000" stroke-width="3.33"/>
<text x="260.00" y="959.00" text-anchor="middle" class="tl" textLength="63.8" lengthAdjust="spacingAndGlyphs">7.5</text>
<line x1="441.50" y1="897.40" x2="441.50" y2="912.00" stroke="#000" stroke-width="3.33"/>
<text x="441.50" y="959.00" text-anchor="middle" class="tl" textLength="90.2" lengthAdjust="spacingAndGlyphs">15.0</text>
<line x1="623.00" y1="897.40" x2="623.00" y2="912.00" stroke="#000" stroke-width="3.33"/>
<text x="623.00" y="959.00" text-anchor="middle" class="tl" textLength="90.2" lengthAdjust="spacingAndGlyphs">22.5</text>
<line x1="804.50" y1="897.40" x2="804.50" y2="912.00" stroke="#000" stroke-width="3.33"/>
<text x="804.50" y="959.00" text-anchor="middle" class="tl" textLength="90.2" lengthAdjust="spacingAndGlyphs">30.0</text>
<line x1="986.00" y1="897.40" x2="986.00" y2="912.00" stroke="#000" stroke-width="3.33"/>
<text x="986.00" y="959.00" text-anchor="middle" class="tl" textLength="90.2" lengthAdjust="spacingAndGlyphs">37.5</text>
<line x1="1167.50" y1="897.40" x2="1167.50" y2="912.00" stroke="#000" stroke-width="3.33"/>
<text x="1167.50" y="959.00" text-anchor="middle" class="tl" textLength="90.2" lengthAdjust="spacingAndGlyphs">45.0</text>
<line x1="1349.00" y1="897.40" x2="1349.00" y2="912.00" stroke="#000" stroke-width="3.33"/>
<text x="1349.00" y="959.00" text-anchor="middle" class="tl" textLength="90.2" lengthAdjust="spacingAndGlyphs">52.5</text>
<rect x="78.50" y="1816.50" width="61.10" height="65.90" fill="#000096"/>
<rect x="139.00" y="1816.50" width="61.10" height="65.90" fill="#0000cd"/>
<rect x="199.50" y="1816.50" width="61.10" height="65.90" fill="#0000ff"/>
<rect x="260.00" y="1816.50" width="61.10" height="65.90" fill="#0020ff"/>
<rect x="320.50" y="1816.50" width="61.10" height="65.90" fill="#0050ff"/>
<rect x="381.00" y="1816.50" width="61.10" height="65.90" fill="#0080ff"/>
<rect x="441.50" y="1816.50" width="61.10" height="65.90" fill="#00acff"/>
<rect x="502.00" y="1816.50" width="61.10" height="65.90" fill="#00dcfe"/>
<rect x="562.50" y="1816.50" width="61.10" height="65.90" fill="#1cffdb"/>
<rect x="623.00" y="1816.50" width="61.10" height="65.90" fill="#43ffb4"/>
<rect x="683.50" y="1816.50" width="61.10" height="65.90" fill="#6aff8d"/>
<rect x="744.00" y="1816.50" width="61.10" height="65.90" fill="#8dff6a"/>
<rect x="804.50" y="1816.50" width="61.10" height="65.90" fill="#b4ff43"/>
<rect x="865.00" y="1816.50" width="61.10" height="65.90" fill="#dbff1c"/>
<rect x="925.50" y="1816.50" width="61.10" height="65.90" fill="#feed00"/>
<rect x="986.00" y="1816.50" width="61.10" height="65.90" fill="#ffc100"/>
<rect x="1046.50" y="1816.50" width="61.10" height="65.90" fill="#ff9400"/>
<rect x="1107.00" y="1816.50" width="61.10" height="65.90" fill="#ff6c00"/>
<rect x="1167.50" y="1816.50" width="61.10" height="65.90" fill="#ff3f00"/>
<rect x="1228.00" y="1816.50" width="61.10" height="65.90" fill="#ff1600"/>
<rect x="1288.50" y="1816.50" width="61.10" height="65.90" fill="#cd0000"/>
<rect x="1349.00" y="1816.50" width="61.10" height="65.90" fill="#960000"/>
<rect x="78.50" y="1816.50" width="1331.00" height="65.90" fill="none" stroke="#000" stroke-width="3.33"/>
<line x1="78.50" y1="1882.40" x2="78.50" y2="1897.00" stroke="#000" stroke-width="3.33"/>
<text x="78.50" y="1944.00" text-anchor="middle" class="tl" textLength="63.8" lengthAdjust="spacingAndGlyphs">0.0</text>
<line x1="260.00" y1="1882.40" x2="260.00" y2="1897.00" stroke="#000" stroke-width="3.33"/>
<text x="260.00" y="1944.00" text-anchor="middle" class="tl" textLength="63.8" lengthAdjust="spacingAndGlyphs">7.5</text>
<line x1="441.50" y1="1882.40" x2="441.50" y2="1897.00" stroke="#000" stroke-width="3.33"/>
<text x="441.50" y="1944.00" text-anchor="middle" class="tl" textLength="90.2" lengthAdjust="spacingAndGlyphs">15.0</text>
<line x1="623.00" y1="1882.40" x2="623.00" y2="1897.00" stroke="#000" stroke-width="3.33"/>
<text x="623.00" y="1944.00" text-anchor="middle" class="tl" textLength="90.2" lengthAdjust="spacingAndGlyphs">22.5</text>
<line x1="804.50" y1="1882.40" x2="804.50" y2="1897.00" stroke="#000" stroke-width="3.33"/>
<text x="804.50" y="1944.00" text-anchor="middle" class="tl" textLength="90.2" lengthAdjust="spacingAndGlyphs">30.0</text>
<line x1="986.00" y1="1882.40" x2="986.00" y2="1897.00" stroke="#000" stroke-width="3.33"/>
<text x="986.00" y="1944.00" text-anchor="middle" class="tl" textLength="90.2" lengthAdjust="spacingAndGlyphs">37.5</text>
<line x1="1167.50" y1="1882.40" x2="1167.50" y2="1897.00" stroke="#000" stroke-width="3.33"/>
<text x="1167.50" y="1944.00" text-anchor="middle" class="tl" textLength="90.2" lengthAdjust="spacingAndGlyphs">45.0</text>
<line x1="1349.00" y1="1882.40" x2="1349.00" y2="1897.00" stroke="#000" stroke-width="3.33"/>
<text x="1349.00" y="1944.00" text-anchor="middle" class="tl" textLength="90.2" lengthAdjust="spacingAndGlyphs">52.5</text>
<rect x="78.50" y="2801.50" width="166.97" height="65.90" fill="#0000c8"/>
<rect x="244.88" y="2801.50" width="166.97" height="65.90" fill="#0040ff"/>
<rect x="411.25" y="2801.50" width="166.97" height="65.90" fill="#00c0ff"/>
<rect x="577.62" y="2801.50" width="166.97" height="65.90" fill="#49ffad"/>
<rect x="744.00" y="2801.50" width="166.97" height="65.90" fill="#b1ff46"/>
<rect x="910.38" y="2801.50" width="166.97" height="65.90" fill="#ffd000"/>
<rect x="1076.75" y="2801.50" width="166.97" height="65.90" fill="#ff5900"/>
<rect x="1243.12" y="2801.50" width="166.97" height="65.90" fill="#c40000"/>
<rect x="78.50" y="2801.50" width="1331.00" height="65.90" fill="none" stroke="#000" stroke-width="3.33"/>
<line x1="78.50" y1="2867.40" x2="78.50" y2="2882.00" stroke="#000" stroke-width="3.33"/>
<text x="78.50" y="2929.00" text-anchor="middle" class="tl" textLength="63.8" lengthAdjust="spacingAndGlyphs">0.0</text>
<line x1="244.88" y1="2867.40" x2="244.88" y2="2882.00" stroke="#000" stroke-width="3.33"/>
<text x="244.88" y="2929.00" text-anchor="middle" class="tl" textLength="63.8" lengthAdjust="spacingAndGlyphs">2.5</text>
<line x1="411.25" y1="2867.40" x2="411.25" y2="2882.00" stroke="#000" stroke-width="3.33"/>
<text x="411.25" y="2929.00" text-anchor="middle" class="tl" textLength="63.8" lengthAdjust="spacingAndGlyphs">5.0</text>
<line x1="577.62" y1="2867.40" x2="577.62" y2="2882.00" stroke="#000" stroke-width="3.33"/>
<text x="577.62" y="2929.00" text-anchor="middle" class="tl" textLength="63.8" lengthAdjust="spacingAndGlyphs">7.5</text>
<line x1="744.00" y1="2867.40" x2="744.00" y2="2882.00" stroke="#000" stroke-width="3.33"/>
<text x="744.00" y="2929.00" text-anchor="middle" class="tl" textLength="90.2" lengthAdjust="spacingAndGlyphs">10.0</text>
<line x1="910.38" y1="2867.40" x2="910.38" y2="2882.00" stroke="#000" stroke-width="3.33"/>
<text x="910.38" y="2929.00" text-anchor="middle" class="tl" textLength="90.2" lengthAdjust="spacingAndGlyphs">12.5</text>
<line x1="1076.75" y1="2867.40" x2="1076.75" y2="2882.00" stroke="#000" stroke-width="3.33"/>
<text x="1076.75" y="2929.00" text-anchor="middle" class="tl" textLength="90.2" lengthAdjust="spacingAndGlyphs">15.0</text>
<line x1="1243.12" y1="2867.40" x2="1243.12" y2="2882.00" stroke="#000" stroke-width="3.33"/>
<text x="1243.12" y="2929.00" text-anchor="middle" class="tl" textLength="90.2" lengthAdjust="spacingAndGlyphs">17.5</text>
<line x1="1409.50" y1="2867.40" x2="1409.50" y2="2882.00" stroke="#000" stroke-width="3.33"/>
<text x="1409.50" y="2929.00" text-anchor="middle" class="tl" textLength="90.2" lengthAdjust="spacingAndGlyphs">20.0</text>
</svg>
</body></html>
